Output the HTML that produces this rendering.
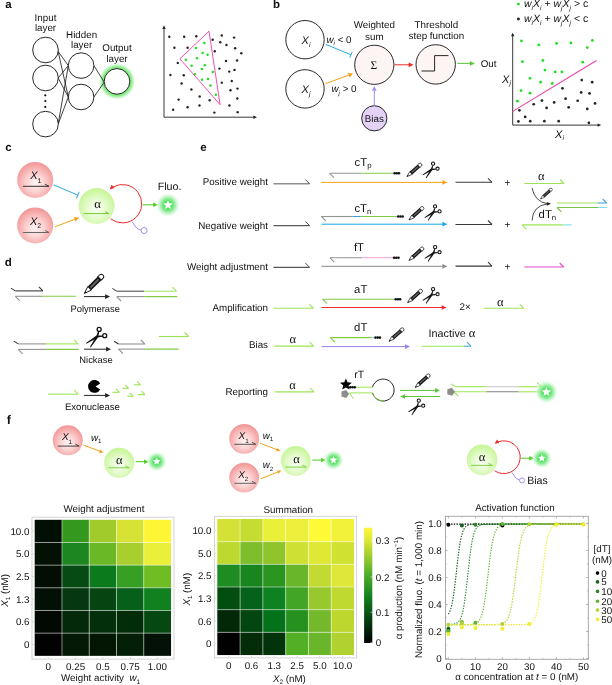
<!DOCTYPE html>
<html><head><meta charset="utf-8"><style>
html,body{margin:0;padding:0;background:#fff;}
svg{display:block;font-family:"Liberation Sans",sans-serif;fill:#1a1a1a;text-rendering:geometricPrecision;will-change:transform;}
text{fill:#111;}
</style></head><body>
<svg width="612" height="685" viewBox="0 0 612 685">
<defs>
<radialGradient id="gred" cx="50%" cy="58%" r="54%"><stop offset="0" stop-color="#fff4f4"/><stop offset="0.45" stop-color="#fcd3d3"/><stop offset="1" stop-color="#f39a9a"/></radialGradient>
<radialGradient id="ggreen" cx="50%" cy="58%" r="54%"><stop offset="0" stop-color="#f8fff3"/><stop offset="0.5" stop-color="#e6fbcf"/><stop offset="1" stop-color="#c9f69a"/></radialGradient>
<radialGradient id="glow" cx="50%" cy="50%" r="50%"><stop offset="0" stop-color="#4ee05f"/><stop offset="0.35" stop-color="#5ce36b"/><stop offset="0.6" stop-color="#98eea2" stop-opacity="0.85"/><stop offset="0.82" stop-color="#d3f8d6" stop-opacity="0.55"/><stop offset="1" stop-color="#ffffff" stop-opacity="0"/></radialGradient>
<radialGradient id="ringglow"><stop offset="0" stop-color="#6fe06f"/><stop offset="1" stop-color="#fff" stop-opacity="0"/></radialGradient>
<linearGradient id="cbar" x1="0" y1="1" x2="0" y2="0"><stop offset="0" stop-color="#000000"/><stop offset="0.2" stop-color="#063f10"/><stop offset="0.4" stop-color="#13801f"/><stop offset="0.58" stop-color="#4aab2a"/><stop offset="0.75" stop-color="#9ccc2f"/><stop offset="0.88" stop-color="#d8e636"/><stop offset="1" stop-color="#fff73a"/></linearGradient>
<filter id="blur1" x="-50%" y="-50%" width="200%" height="200%"><feGaussianBlur stdDeviation="1.2"/></filter>
</defs>
<rect width="612" height="685" fill="#fff"/>
<g id="pa">
<text x="5.20" y="7.60" text-anchor="start" font-size="11.5" font-weight="bold">a</text>
<text x="45.50" y="20.60" text-anchor="middle" font-size="9.8" >Input</text>
<text x="45.50" y="31.00" text-anchor="middle" font-size="9.8" >layer</text>
<text x="81.60" y="37.50" text-anchor="middle" font-size="9.8" >Hidden</text>
<text x="81.60" y="47.90" text-anchor="middle" font-size="9.8" >layer</text>
<text x="117.00" y="51.40" text-anchor="middle" font-size="9.8" >Output</text>
<text x="117.00" y="61.80" text-anchor="middle" font-size="9.8" >layer</text>
<radialGradient id="oglow" gradientUnits="userSpaceOnUse" cx="117.0" cy="81.4" r="18.8"><stop offset="0.66" stop-color="#6fe46f"/><stop offset="0.76" stop-color="#86ea86"/><stop offset="0.88" stop-color="#bff4bf" stop-opacity="0.75"/><stop offset="1" stop-color="#ffffff" stop-opacity="0"/></radialGradient>
<circle cx="117.0" cy="81.4" r="18.8" fill="url(#oglow)"/>
<line x1="58.17" y1="51.50" x2="68.30" y2="65.60" stroke="#111" stroke-width="0.8" />
<line x1="58.17" y1="51.50" x2="68.30" y2="97.00" stroke="#111" stroke-width="0.8" />
<line x1="58.17" y1="78.00" x2="68.30" y2="65.60" stroke="#111" stroke-width="0.8" />
<line x1="58.17" y1="78.00" x2="68.30" y2="97.00" stroke="#111" stroke-width="0.8" />
<line x1="58.17" y1="124.10" x2="68.30" y2="65.60" stroke="#111" stroke-width="0.8" />
<line x1="58.17" y1="124.10" x2="68.30" y2="97.00" stroke="#111" stroke-width="0.8" />
<line x1="93.90" y1="65.60" x2="104.20" y2="82.20" stroke="#111" stroke-width="0.8" />
<line x1="93.90" y1="97.00" x2="104.20" y2="82.20" stroke="#111" stroke-width="0.8" />
<circle cx="45.5" cy="50.0" r="12.8" fill="#fff" stroke="#111" stroke-width="0.9"/>
<circle cx="45.5" cy="78.0" r="12.8" fill="#fff" stroke="#111" stroke-width="0.9"/>
<circle cx="45.5" cy="124.1" r="12.8" fill="#fff" stroke="#111" stroke-width="0.9"/>
<circle cx="81.1" cy="65.6" r="12.8" fill="#fff" stroke="#111" stroke-width="0.9"/>
<circle cx="81.1" cy="97.0" r="12.8" fill="#fff" stroke="#111" stroke-width="0.9"/>
<circle cx="117.0" cy="81.4" r="12.8" fill="#fff" stroke="#111" stroke-width="0.9"/>
<circle cx="45.3" cy="95.3" r="1.1" fill="#111"/>
<circle cx="45.3" cy="101.0" r="1.1" fill="#111"/>
<circle cx="45.3" cy="106.9" r="1.1" fill="#111"/>
<line x1="164.00" y1="117.20" x2="164.00" y2="28.50" stroke="#222" stroke-width="0.9" />
<polygon points="164.00,25.30 165.70,28.90 162.30,28.90" fill="#222"/>
<line x1="164.00" y1="117.20" x2="253.80" y2="117.20" stroke="#222" stroke-width="0.9" />
<polygon points="257.00,117.20 253.40,118.90 253.40,115.50" fill="#222"/>
<circle cx="169.31" cy="36.75" r="1.2" fill="#222"/>
<circle cx="184.18" cy="36.75" r="1.2" fill="#222"/>
<circle cx="196.29" cy="36.32" r="1.2" fill="#222"/>
<circle cx="221.78" cy="35.47" r="1.2" fill="#222"/>
<circle cx="234.10" cy="37.60" r="1.2" fill="#222"/>
<circle cx="212.65" cy="39.72" r="1.2" fill="#222"/>
<circle cx="220.29" cy="42.27" r="1.2" fill="#222"/>
<circle cx="226.45" cy="45.03" r="1.2" fill="#222"/>
<circle cx="174.41" cy="47.79" r="1.2" fill="#222"/>
<circle cx="187.58" cy="47.79" r="1.2" fill="#222"/>
<circle cx="214.77" cy="51.19" r="1.2" fill="#222"/>
<circle cx="235.16" cy="48.22" r="1.2" fill="#222"/>
<circle cx="241.32" cy="53.32" r="1.2" fill="#222"/>
<circle cx="177.81" cy="62.88" r="1.2" fill="#222"/>
<circle cx="226.03" cy="60.96" r="1.2" fill="#222"/>
<circle cx="237.08" cy="60.54" r="1.2" fill="#222"/>
<circle cx="219.44" cy="68.61" r="1.2" fill="#222"/>
<circle cx="229.22" cy="71.58" r="1.2" fill="#222"/>
<circle cx="234.53" cy="69.89" r="1.2" fill="#222"/>
<circle cx="170.38" cy="74.98" r="1.2" fill="#222"/>
<circle cx="183.76" cy="75.20" r="1.2" fill="#222"/>
<circle cx="181.63" cy="83.48" r="1.2" fill="#222"/>
<circle cx="221.78" cy="82.63" r="1.2" fill="#222"/>
<circle cx="231.76" cy="80.93" r="1.2" fill="#222"/>
<circle cx="191.41" cy="89.43" r="1.2" fill="#222"/>
<circle cx="230.49" cy="90.28" r="1.2" fill="#222"/>
<circle cx="237.50" cy="88.58" r="1.2" fill="#222"/>
<circle cx="199.69" cy="96.44" r="1.2" fill="#222"/>
<circle cx="209.67" cy="100.26" r="1.2" fill="#222"/>
<circle cx="178.66" cy="99.62" r="1.2" fill="#222"/>
<circle cx="237.29" cy="98.56" r="1.2" fill="#222"/>
<circle cx="229.43" cy="105.57" r="1.2" fill="#222"/>
<circle cx="199.48" cy="105.57" r="1.2" fill="#222"/>
<circle cx="187.58" cy="107.27" r="1.2" fill="#222"/>
<circle cx="173.14" cy="109.82" r="1.2" fill="#222"/>
<circle cx="214.35" cy="112.58" r="1.2" fill="#222"/>
<circle cx="237.71" cy="112.16" r="1.2" fill="#222"/>
<circle cx="204.36" cy="43.12" r="1.25" fill="#22dd22"/>
<circle cx="195.87" cy="48.01" r="1.25" fill="#22dd22"/>
<circle cx="202.66" cy="53.10" r="1.25" fill="#22dd22"/>
<circle cx="207.55" cy="54.80" r="1.25" fill="#22dd22"/>
<circle cx="196.93" cy="58.20" r="1.25" fill="#22dd22"/>
<circle cx="185.88" cy="59.69" r="1.25" fill="#22dd22"/>
<circle cx="191.62" cy="65.64" r="1.25" fill="#22dd22"/>
<circle cx="204.79" cy="65.21" r="1.25" fill="#22dd22"/>
<circle cx="202.03" cy="69.04" r="1.25" fill="#22dd22"/>
<circle cx="212.86" cy="72.01" r="1.25" fill="#22dd22"/>
<circle cx="194.80" cy="74.13" r="1.25" fill="#22dd22"/>
<circle cx="202.03" cy="79.66" r="1.25" fill="#22dd22"/>
<circle cx="207.97" cy="79.02" r="1.25" fill="#22dd22"/>
<circle cx="210.52" cy="85.39" r="1.25" fill="#22dd22"/>
<circle cx="215.83" cy="94.74" r="1.25" fill="#22dd22"/>
<polygon points="209.0,31.2 179.9,58.8 220.1,104.7" fill="none" stroke="#ec3ea6" stroke-width="0.9"/>
</g>
<g id="pb">
<text x="272.90" y="8.40" text-anchor="start" font-size="11.5" font-weight="bold">b</text>
<circle cx="305.0" cy="39.7" r="19.2" fill="#fff" stroke="#111" stroke-width="0.9"/>
<text x="306.00" y="43.50" text-anchor="middle" font-size="11" font-style="italic">X<tspan font-size="6.82" dy="3.4" font-style="italic">i</tspan></text>
<circle cx="305.0" cy="88.9" r="19.2" fill="#fff" stroke="#111" stroke-width="0.9"/>
<text x="306.00" y="92.70" text-anchor="middle" font-size="11" font-style="italic">X<tspan font-size="6.82" dy="3.4" font-style="italic">j</tspan></text>
<circle cx="374.3" cy="64.8" r="19.6" fill="#fcf5f4" stroke="#111" stroke-width="0.9"/>
<text x="373.90" y="68.80" text-anchor="middle" font-size="11.5" font-family="Liberation Serif">&#931;</text>
<circle cx="374.3" cy="118.3" r="12.6" fill="#e3d2f6" stroke="#111" stroke-width="0.9"/>
<text x="374.30" y="121.80" text-anchor="middle" font-size="9.8" >Bias</text>
<text x="374.30" y="27.80" text-anchor="middle" font-size="9.8" >Weighted</text>
<text x="374.30" y="40.00" text-anchor="middle" font-size="9.8" >sum</text>
<line x1="325.90" y1="44.40" x2="351.00" y2="54.80" stroke="#2aa9e0" stroke-width="1.0" />
<line x1="349.78" y1="57.76" x2="352.22" y2="51.84" stroke="#2aa9e0" stroke-width="1.0" />
<line x1="325.40" y1="83.70" x2="349.17" y2="75.01" stroke="#f4a11a" stroke-width="1.0" />
<polygon points="353.30,73.50 349.50,77.39 347.89,72.98" fill="#f4a11a"/>
<line x1="394.60" y1="64.80" x2="409.10" y2="64.80" stroke="#ee2a2a" stroke-width="1.0" />
<polygon points="413.50,64.80 408.60,67.15 408.60,62.45" fill="#ee2a2a"/>
<line x1="374.30" y1="105.60" x2="374.30" y2="90.30" stroke="#a78cf2" stroke-width="1.0" />
<polygon points="374.30,85.90 376.65,90.80 371.95,90.80" fill="#a78cf2"/>
<text x="326.5" y="42.6" font-size="9.8" font-style="italic">w<tspan font-size="6.2" dy="2.2">i</tspan><tspan dy="-2.2" font-style="normal"> &lt; 0</tspan></text>
<text x="331.5" y="92.3" font-size="9.8" font-style="italic">w<tspan font-size="6.2" dy="2.2">j</tspan><tspan dy="-2.2" font-style="normal"> &gt; 0</tspan></text>
<circle cx="435.7" cy="64.4" r="19.7" fill="#fcf5f4" stroke="#111" stroke-width="0.9"/>
<polyline points="421.5,71 434.6,71 434.6,55.6 448.5,55.6" fill="none" stroke="#111" stroke-width="0.9"/>
<text x="436.40" y="28.30" text-anchor="middle" font-size="9.8" >Threshold</text>
<text x="436.40" y="39.30" text-anchor="middle" font-size="9.8" >step function</text>
<line x1="457.20" y1="63.40" x2="470.40" y2="63.40" stroke="#5cc63a" stroke-width="1.0" />
<polygon points="474.80,63.40 469.90,65.75 469.90,61.05" fill="#5cc63a"/>
<text x="480.70" y="66.60" text-anchor="start" font-size="9.8" >Out</text>
<line x1="512.70" y1="125.10" x2="512.70" y2="36.00" stroke="#222" stroke-width="0.9" />
<polygon points="512.70,32.70 514.40,36.30 511.00,36.30" fill="#222"/>
<line x1="512.70" y1="125.10" x2="598.00" y2="125.10" stroke="#222" stroke-width="0.9" />
<polygon points="601.20,125.10 597.60,126.80 597.60,123.40" fill="#222"/>
<circle cx="581.75" cy="80.12" r="1.35" fill="#222"/>
<circle cx="592.18" cy="82.16" r="1.35" fill="#222"/>
<circle cx="562.54" cy="88.29" r="1.35" fill="#222"/>
<circle cx="581.14" cy="92.38" r="1.35" fill="#222"/>
<circle cx="589.52" cy="93.40" r="1.35" fill="#222"/>
<circle cx="541.90" cy="100.55" r="1.35" fill="#222"/>
<circle cx="565.61" cy="98.72" r="1.35" fill="#222"/>
<circle cx="577.66" cy="100.76" r="1.35" fill="#222"/>
<circle cx="533.72" cy="104.23" r="1.35" fill="#222"/>
<circle cx="554.16" cy="102.39" r="1.35" fill="#222"/>
<circle cx="595.04" cy="103.42" r="1.35" fill="#222"/>
<circle cx="519.42" cy="110.36" r="1.35" fill="#222"/>
<circle cx="546.60" cy="107.91" r="1.35" fill="#222"/>
<circle cx="568.67" cy="107.30" r="1.35" fill="#222"/>
<circle cx="587.27" cy="108.93" r="1.35" fill="#222"/>
<circle cx="525.14" cy="116.91" r="1.35" fill="#222"/>
<circle cx="518.39" cy="121.40" r="1.35" fill="#222"/>
<circle cx="530.25" cy="121.20" r="1.35" fill="#222"/>
<circle cx="544.35" cy="121.20" r="1.35" fill="#222"/>
<circle cx="558.66" cy="121.20" r="1.35" fill="#222"/>
<circle cx="588.91" cy="122.83" r="1.35" fill="#222"/>
<circle cx="521.46" cy="40.88" r="1.4" fill="#22dd22"/>
<circle cx="538.83" cy="44.96" r="1.4" fill="#22dd22"/>
<circle cx="556.61" cy="43.33" r="1.4" fill="#22dd22"/>
<circle cx="570.92" cy="42.92" r="1.4" fill="#22dd22"/>
<circle cx="592.38" cy="40.47" r="1.4" fill="#22dd22"/>
<circle cx="587.27" cy="47.62" r="1.4" fill="#22dd22"/>
<circle cx="522.48" cy="61.72" r="1.4" fill="#22dd22"/>
<circle cx="542.92" cy="60.50" r="1.4" fill="#22dd22"/>
<circle cx="582.77" cy="62.13" r="1.4" fill="#22dd22"/>
<circle cx="544.96" cy="70.10" r="1.4" fill="#22dd22"/>
<circle cx="555.18" cy="71.94" r="1.4" fill="#22dd22"/>
<circle cx="561.93" cy="71.94" r="1.4" fill="#22dd22"/>
<circle cx="530.04" cy="78.28" r="1.4" fill="#22dd22"/>
<circle cx="540.67" cy="82.16" r="1.4" fill="#22dd22"/>
<circle cx="552.32" cy="83.39" r="1.4" fill="#22dd22"/>
<circle cx="521.05" cy="90.54" r="1.4" fill="#22dd22"/>
<circle cx="530.04" cy="93.20" r="1.4" fill="#22dd22"/>
<circle cx="517.37" cy="101.17" r="1.4" fill="#22dd22"/>
<line x1="512.70" y1="111.40" x2="596.50" y2="60.50" stroke="#ec3ea6" stroke-width="1.1" />
<text x="506.5" y="82.5" text-anchor="middle" font-size="11" font-style="italic">X<tspan font-size="6.8" dy="2.5">j</tspan></text>
<text x="559.5" y="137.7" text-anchor="middle" font-size="11" font-style="italic">X<tspan font-size="6.8" dy="2.5">i</tspan></text>
<circle cx="518.4" cy="4.1" r="1.45" fill="#22dd22"/>
<circle cx="518.4" cy="19.0" r="1.45" fill="#222"/>
<text x="524.0" y="7.40" font-size="10.5" font-style="italic">w<tspan font-size="6.6" dy="2.3">i</tspan><tspan dy="-2.3">X</tspan><tspan font-size="6.6" dy="2.3">i</tspan><tspan dy="-2.3" font-style="normal"> + </tspan><tspan>w</tspan><tspan font-size="6.6" dy="2.3">j</tspan><tspan dy="-2.3">X</tspan><tspan font-size="6.6" dy="2.3">j</tspan><tspan dy="-2.3" font-style="normal"> &gt; c</tspan></text>
<text x="524.0" y="22.30" font-size="10.5" font-style="italic">w<tspan font-size="6.6" dy="2.3">i</tspan><tspan dy="-2.3">X</tspan><tspan font-size="6.6" dy="2.3">i</tspan><tspan dy="-2.3" font-style="normal"> + </tspan><tspan>w</tspan><tspan font-size="6.6" dy="2.3">j</tspan><tspan dy="-2.3">X</tspan><tspan font-size="6.6" dy="2.3">j</tspan><tspan dy="-2.3" font-style="normal"> &lt; c</tspan></text>
</g>
<g id="pc">
<text x="5.30" y="151.30" text-anchor="start" font-size="11.5" font-weight="bold">c</text>
<circle cx="35.2" cy="179.9" r="18" fill="url(#gred)"/>
<circle cx="35.2" cy="225.4" r="18" fill="url(#gred)"/>
<circle cx="96.6" cy="206.0" r="17.9" fill="url(#ggreen)"/>
<text x="35.70" y="179.30" text-anchor="middle" font-size="11" font-style="italic">X<tspan font-size="6.82" dy="3.4" font-style="normal">1</tspan></text>
<text x="35.50" y="224.80" text-anchor="middle" font-size="11" font-style="italic">X<tspan font-size="6.82" dy="3.4" font-style="normal">2</tspan></text>
<line x1="22.90" y1="186.30" x2="49.00" y2="186.30" stroke="#333" stroke-width="1.0" />
<polyline points="45.20,184.30 49.00,186.30" stroke="#333" stroke-width="1.0" fill="none"/>
<line x1="22.90" y1="232.50" x2="49.00" y2="232.50" stroke="#666" stroke-width="1.0" />
<polyline points="45.20,230.50 49.00,232.50" stroke="#666" stroke-width="1.0" fill="none"/>
<text x="97.60" y="208.00" text-anchor="middle" font-size="12.8" font-family="Liberation Serif">&#945;</text>
<line x1="83.50" y1="213.60" x2="108.80" y2="213.60" stroke="#74cf38" stroke-width="1.0" />
<polyline points="105.00,211.60 108.80,213.60" stroke="#74cf38" stroke-width="1.0" fill="none"/>
<line x1="53.70" y1="184.90" x2="77.80" y2="195.10" stroke="#2aa9e0" stroke-width="1.0" />
<line x1="76.40" y1="198.42" x2="79.20" y2="191.78" stroke="#2aa9e0" stroke-width="1.0" />
<line x1="54.90" y1="226.80" x2="75.18" y2="219.15" stroke="#f4a11a" stroke-width="1.0" />
<polygon points="79.30,217.60 75.54,221.53 73.89,217.13" fill="#f4a11a"/>
<path d="M110.57,218.75 A19.2,19.2 0 1 0 113.19,186.91" fill="none" stroke="#ee2a2a" stroke-width="1.0"/>
<polygon points="109.65,189.43 111.60,184.72 114.54,187.99" fill="#ee2a2a"/>
<line x1="142.60" y1="204.80" x2="153.70" y2="204.80" stroke="#4ccc1e" stroke-width="1.0" />
<polygon points="157.90,204.80 153.20,207.00 153.20,202.60" fill="#4ccc1e"/>
<circle cx="168.0" cy="205.0" r="12.5" fill="url(#glow)"/>
<polygon points="168.00,200.00 169.32,203.18 172.76,203.45 170.14,205.70 170.94,209.05 168.00,207.25 165.06,209.05 165.86,205.70 163.24,203.45 166.68,203.18" fill="#fff"/>
<text x="169.60" y="190.30" text-anchor="middle" font-size="10.7" >Fluo.</text>
<path d="M132.3,221.7 Q136,229 141.0,230.2" fill="none" stroke="#a78cf2" stroke-width="1.0"/>
<circle cx="144.1" cy="230.5" r="3.0" fill="#fff" stroke="#a78cf2" stroke-width="1.0"/>
</g>
<g id="pd">
<text x="4.80" y="265.60" text-anchor="start" font-size="11.5" font-weight="bold">d</text>
<line x1="15.30" y1="290.90" x2="42.90" y2="290.90" stroke="#3a3a3a" stroke-width="1.1" stroke-linecap="butt"/>
<polyline points="38.90,286.90 42.90,290.90" stroke="#3a3a3a" stroke-width="1.1" fill="none"/>
<polyline points="10.90,288.10 15.30,290.90" stroke="#3a3a3a" stroke-width="1.1" fill="none"/>
<line x1="15.30" y1="296.30" x2="42.90" y2="296.30" stroke="#939393" stroke-width="1.1" stroke-linecap="butt"/>
<line x1="42.90" y1="296.30" x2="76.00" y2="296.30" stroke="#82cb45" stroke-width="1.1" stroke-linecap="butt"/>
<polyline points="15.30,296.30 19.70,300.70" stroke="#939393" stroke-width="1.1" fill="none"/>
<g transform="translate(84.20,293.60) rotate(-44.7) scale(1.008)"><path d="M0.3,0 L7.5,-2.5 L7.5,2.5 Z" fill="#fff" stroke="#111" stroke-width="0.9" stroke-linejoin="round"/><path d="M0,0 L2.4,-0.85 L2.4,0.85 Z" fill="#111"/><rect x="7.5" y="-2.5" width="14" height="5" fill="#111"/><rect x="8.7" y="-1.0" width="11.6" height="2.0" fill="#5e5e5e"/><path d="M21.5,-2.4 L23.8,-2.4 A2.4,2.4 0 0 1 23.8,2.4 L21.5,2.4 Z" fill="#fff" stroke="#111" stroke-width="0.95"/></g>
<line x1="84.00" y1="296.60" x2="105.60" y2="296.60" stroke="#222" stroke-width="1.0" />
<polygon points="110.00,296.60 105.10,298.95 105.10,294.25" fill="#222"/>
<text x="95.20" y="311.80" text-anchor="middle" font-size="9.4" >Polymerase</text>
<line x1="116.70" y1="291.20" x2="144.20" y2="291.20" stroke="#555" stroke-width="1.1" stroke-linecap="butt"/>
<line x1="144.20" y1="291.20" x2="176.50" y2="291.20" stroke="#9ce456" stroke-width="1.1" stroke-linecap="butt"/>
<polyline points="172.50,287.20 176.50,291.20" stroke="#9ce456" stroke-width="1.1" fill="none"/>
<polyline points="112.30,288.40 116.70,291.20" stroke="#555" stroke-width="1.1" fill="none"/>
<line x1="116.70" y1="296.60" x2="144.20" y2="296.60" stroke="#939393" stroke-width="1.1" stroke-linecap="butt"/>
<line x1="144.20" y1="296.60" x2="177.40" y2="296.60" stroke="#82cb45" stroke-width="1.1" stroke-linecap="butt"/>
<polyline points="116.70,296.60 121.10,301.00" stroke="#939393" stroke-width="1.1" fill="none"/>
<line x1="18.20" y1="343.90" x2="46.10" y2="343.90" stroke="#939393" stroke-width="1.1" stroke-linecap="butt"/>
<line x1="46.10" y1="343.90" x2="78.00" y2="343.90" stroke="#9ce456" stroke-width="1.1" stroke-linecap="butt"/>
<polyline points="74.00,339.90 78.00,343.90" stroke="#9ce456" stroke-width="1.1" fill="none"/>
<polyline points="13.80,341.10 18.20,343.90" stroke="#3a3a3a" stroke-width="1.1" fill="none"/>
<line x1="18.20" y1="349.40" x2="46.10" y2="349.40" stroke="#939393" stroke-width="1.1" stroke-linecap="butt"/>
<line x1="46.10" y1="349.40" x2="78.70" y2="349.40" stroke="#82cb45" stroke-width="1.1" stroke-linecap="butt"/>
<polyline points="18.20,349.40 22.60,353.80" stroke="#939393" stroke-width="1.1" fill="none"/>
<circle cx="99.15" cy="329.40" r="2.00" fill="none" stroke="#111" stroke-width="1.30"/>
<circle cx="104.70" cy="335.70" r="2.00" fill="none" stroke="#111" stroke-width="1.30"/>
<polygon points="98.03,331.61 96.20,336.30 98.10,336.90 99.27,331.99" fill="#111"/>
<polygon points="102.49,335.45 97.06,335.60 97.24,337.60 102.61,336.75" fill="#111"/>
<polygon points="96.51,335.58 86.06,343.02 86.54,343.78 97.79,337.62" fill="#111"/>
<polygon points="96.14,335.95 89.92,346.96 90.68,347.44 98.16,337.25" fill="#111"/>
<line x1="84.10" y1="349.20" x2="106.60" y2="349.20" stroke="#222" stroke-width="1.0" />
<polygon points="111.00,349.20 106.10,351.55 106.10,346.85" fill="#222"/>
<text x="96.00" y="362.90" text-anchor="middle" font-size="9.4" >Nickase</text>
<line x1="118.50" y1="344.00" x2="144.80" y2="344.00" stroke="#939393" stroke-width="1.1" stroke-linecap="butt"/>
<polyline points="140.80,340.00 144.80,344.00" stroke="#939393" stroke-width="1.1" fill="none"/>
<polyline points="114.10,341.20 118.50,344.00" stroke="#3a3a3a" stroke-width="1.1" fill="none"/>
<line x1="118.50" y1="349.10" x2="145.80" y2="349.10" stroke="#939393" stroke-width="1.1" stroke-linecap="butt"/>
<line x1="145.80" y1="349.10" x2="178.60" y2="349.10" stroke="#82cb45" stroke-width="1.1" stroke-linecap="butt"/>
<polyline points="118.50,349.10 122.90,353.50" stroke="#939393" stroke-width="1.1" fill="none"/>
<line x1="158.90" y1="336.50" x2="188.60" y2="336.50" stroke="#9ce456" stroke-width="1.1" stroke-linecap="butt"/>
<polyline points="184.60,332.50 188.60,336.50" stroke="#9ce456" stroke-width="1.1" fill="none"/>
<line x1="48.20" y1="394.20" x2="78.20" y2="394.20" stroke="#9ce456" stroke-width="1.1" stroke-linecap="butt"/>
<polyline points="74.20,390.20 78.20,394.20" stroke="#9ce456" stroke-width="1.1" fill="none"/>
<path d="M95.5,386.4 L100.2,383.4 A6.45,6.45 0 1 0 100.2,389.4 Z" fill="#000"/>
<line x1="84.10" y1="395.40" x2="105.60" y2="395.40" stroke="#222" stroke-width="1.0" />
<polygon points="110.00,395.40 105.10,397.75 105.10,393.05" fill="#222"/>
<text x="92.40" y="409.80" text-anchor="middle" font-size="9.6" >Exonuclease</text>
<line x1="112.50" y1="392.30" x2="119.40" y2="392.30" stroke="#9ce456" stroke-width="1.15" />
<polyline points="116.00,388.90 119.40,392.30" stroke="#9ce456" stroke-width="1.15" fill="none"/>
<line x1="122.40" y1="388.30" x2="128.60" y2="388.30" stroke="#9ce456" stroke-width="1.15" />
<polyline points="125.20,384.90 128.60,388.30" stroke="#9ce456" stroke-width="1.15" fill="none"/>
<line x1="134.10" y1="384.80" x2="140.40" y2="384.80" stroke="#9ce456" stroke-width="1.15" />
<polyline points="137.00,381.40 140.40,384.80" stroke="#9ce456" stroke-width="1.15" fill="none"/>
<line x1="127.30" y1="396.20" x2="133.10" y2="396.20" stroke="#9ce456" stroke-width="1.15" />
<polyline points="129.70,392.80 133.10,396.20" stroke="#9ce456" stroke-width="1.15" fill="none"/>
<line x1="138.00" y1="394.60" x2="144.90" y2="394.60" stroke="#9ce456" stroke-width="1.15" />
<polyline points="141.50,391.20 144.90,394.60" stroke="#9ce456" stroke-width="1.15" fill="none"/>
</g>
<g id="pe">
<text x="200.30" y="151.30" text-anchor="start" font-size="11.5" font-weight="bold">e</text>
<text x="268.00" y="185.30" text-anchor="end" font-size="9.8" >Positive weight</text>
<text x="268.00" y="228.60" text-anchor="end" font-size="9.8" >Negative weight</text>
<text x="268.00" y="269.80" text-anchor="end" font-size="9.8" >Weight adjustment</text>
<text x="268.00" y="310.60" text-anchor="end" font-size="9.8" >Amplification</text>
<text x="268.00" y="348.40" text-anchor="end" font-size="9.8" >Bias</text>
<text x="268.00" y="394.80" text-anchor="end" font-size="9.8" >Reporting</text>
<line x1="273.40" y1="183.80" x2="309.60" y2="183.80" stroke="#8e8e8e" stroke-width="1.5" />
<polyline points="305.4,179.60 309.6,183.80" stroke="#333" stroke-width="0.9" fill="none"/>
<line x1="273.40" y1="225.60" x2="309.60" y2="225.60" stroke="#5a5a5a" stroke-width="1.25" />
<polyline points="305.4,221.40 309.6,225.60" stroke="#333" stroke-width="0.9" fill="none"/>
<line x1="273.40" y1="267.30" x2="309.60" y2="267.30" stroke="#2e2e2e" stroke-width="1.0" />
<polyline points="305.4,263.10 309.6,267.30" stroke="#333" stroke-width="0.9" fill="none"/>
<line x1="273.40" y1="308.30" x2="313.40" y2="308.30" stroke="#9ce456" stroke-width="1.1" stroke-linecap="butt"/>
<polyline points="309.40,304.30 313.40,308.30" stroke="#9ce456" stroke-width="1.1" fill="none"/>
<line x1="274.40" y1="346.10" x2="313.70" y2="346.10" stroke="#9ce456" stroke-width="1.1" stroke-linecap="butt"/>
<polyline points="309.70,342.10 313.70,346.10" stroke="#9ce456" stroke-width="1.1" fill="none"/>
<line x1="274.80" y1="391.90" x2="314.00" y2="391.90" stroke="#9ce456" stroke-width="1.1" stroke-linecap="butt"/>
<polyline points="310.00,387.90 314.00,391.90" stroke="#9ce456" stroke-width="1.1" fill="none"/>
<text x="292.70" y="343.30" text-anchor="middle" font-size="12.5" font-family="Liberation Serif">&#945;</text>
<text x="292.60" y="388.60" text-anchor="middle" font-size="12.5" font-family="Liberation Serif">&#945;</text>
<line x1="321.00" y1="182.40" x2="442.90" y2="182.40" stroke="#f4a11a" stroke-width="1.0" />
<polygon points="447.30,182.40 442.40,184.75 442.40,180.05" fill="#f4a11a"/>
<line x1="321.40" y1="224.20" x2="442.90" y2="224.20" stroke="#1aa6e6" stroke-width="1.0" />
<polygon points="447.30,224.20 442.40,226.55 442.40,221.85" fill="#1aa6e6"/>
<line x1="321.40" y1="266.30" x2="442.90" y2="266.30" stroke="#8a8a8a" stroke-width="1.0" />
<polygon points="447.30,266.30 442.40,268.65 442.40,263.95" fill="#8a8a8a"/>
<line x1="321.60" y1="307.50" x2="442.20" y2="307.50" stroke="#ee2a2a" stroke-width="1.0" />
<polygon points="446.60,307.50 441.70,309.85 441.70,305.15" fill="#ee2a2a"/>
<line x1="321.60" y1="346.60" x2="405.50" y2="346.60" stroke="#9b7ff0" stroke-width="1.0" />
<polygon points="409.90,346.60 405.00,348.95 405.00,344.25" fill="#9b7ff0"/>
<line x1="329.60" y1="173.30" x2="361.50" y2="173.30" stroke="#939393" stroke-width="1.1" stroke-linecap="butt"/>
<line x1="361.50" y1="173.30" x2="393.30" y2="173.30" stroke="#82cb45" stroke-width="1.1" stroke-linecap="butt"/>
<polyline points="329.60,173.30 334.00,177.70" stroke="#939393" stroke-width="1.1" fill="none"/>
<circle cx="394.60" cy="173.30" r="1.3" fill="#111"/>
<circle cx="396.80" cy="173.30" r="1.3" fill="#111"/>
<circle cx="399.00" cy="173.30" r="1.3" fill="#111"/>
<line x1="321.40" y1="216.50" x2="352.70" y2="216.50" stroke="#939393" stroke-width="1.1" stroke-linecap="butt"/>
<line x1="352.70" y1="216.50" x2="360.80" y2="216.50" stroke="#3aa0dc" stroke-width="1.1" stroke-linecap="butt"/>
<line x1="360.80" y1="216.50" x2="396.90" y2="216.50" stroke="#82cb45" stroke-width="1.1" stroke-linecap="butt"/>
<polyline points="321.40,216.50 325.80,220.90" stroke="#939393" stroke-width="1.1" fill="none"/>
<circle cx="398.20" cy="216.50" r="1.3" fill="#111"/>
<circle cx="400.40" cy="216.50" r="1.3" fill="#111"/>
<circle cx="402.60" cy="216.50" r="1.3" fill="#111"/>
<line x1="329.90" y1="257.70" x2="361.90" y2="257.70" stroke="#939393" stroke-width="1.1" stroke-linecap="butt"/>
<line x1="361.90" y1="257.70" x2="392.80" y2="257.70" stroke="#f2a6dc" stroke-width="1.1" stroke-linecap="butt"/>
<polyline points="329.90,257.70 334.30,262.10" stroke="#939393" stroke-width="1.1" fill="none"/>
<circle cx="394.10" cy="257.70" r="1.3" fill="#111"/>
<circle cx="396.30" cy="257.70" r="1.3" fill="#111"/>
<circle cx="398.50" cy="257.70" r="1.3" fill="#111"/>
<line x1="322.60" y1="299.20" x2="394.40" y2="299.20" stroke="#82cb45" stroke-width="1.1" stroke-linecap="butt"/>
<polyline points="322.60,299.20 327.00,303.60" stroke="#82cb45" stroke-width="1.1" fill="none"/>
<circle cx="395.70" cy="299.20" r="1.3" fill="#111"/>
<circle cx="397.90" cy="299.20" r="1.3" fill="#111"/>
<circle cx="400.10" cy="299.20" r="1.3" fill="#111"/>
<line x1="330.40" y1="337.60" x2="371.90" y2="337.60" stroke="#82cb45" stroke-width="1.1" stroke-linecap="butt"/>
<line x1="371.90" y1="337.60" x2="374.20" y2="337.60" stroke="#7ddff0" stroke-width="1.1" stroke-linecap="butt"/>
<polyline points="330.40,337.60 334.80,342.00" stroke="#82cb45" stroke-width="1.1" fill="none"/>
<circle cx="375.50" cy="337.60" r="1.3" fill="#111"/>
<circle cx="377.70" cy="337.60" r="1.3" fill="#111"/>
<circle cx="379.90" cy="337.60" r="1.3" fill="#111"/>
<text x="354.60" y="165.60" font-size="11.3">cT<tspan font-size="7.8" dy="2.0">p</tspan></text>
<text x="354.40" y="212.30" font-size="11.3">cT<tspan font-size="7.8" dy="2.0">n</tspan></text>
<text x="353.90" y="250.60" font-size="11.3">fT</text>
<text x="354.10" y="293.00" font-size="11.3">aT</text>
<text x="354.10" y="331.00" font-size="11.3">dT</text>
<g transform="translate(406.80,176.70) rotate(-41.5) scale(0.746)"><path d="M0.3,0 L7.5,-2.5 L7.5,2.5 Z" fill="#fff" stroke="#111" stroke-width="0.9" stroke-linejoin="round"/><path d="M0,0 L2.4,-0.85 L2.4,0.85 Z" fill="#111"/><rect x="7.5" y="-2.5" width="14" height="5" fill="#111"/><rect x="8.7" y="-1.0" width="11.6" height="2.0" fill="#5e5e5e"/><path d="M21.5,-2.4 L23.8,-2.4 A2.4,2.4 0 0 1 23.8,2.4 L21.5,2.4 Z" fill="#fff" stroke="#111" stroke-width="0.95"/></g>
<g transform="translate(408.80,220.10) rotate(-41.5) scale(0.746)"><path d="M0.3,0 L7.5,-2.5 L7.5,2.5 Z" fill="#fff" stroke="#111" stroke-width="0.9" stroke-linejoin="round"/><path d="M0,0 L2.4,-0.85 L2.4,0.85 Z" fill="#111"/><rect x="7.5" y="-2.5" width="14" height="5" fill="#111"/><rect x="8.7" y="-1.0" width="11.6" height="2.0" fill="#5e5e5e"/><path d="M21.5,-2.4 L23.8,-2.4 A2.4,2.4 0 0 1 23.8,2.4 L21.5,2.4 Z" fill="#fff" stroke="#111" stroke-width="0.95"/></g>
<g transform="translate(408.80,260.60) rotate(-41.5) scale(0.746)"><path d="M0.3,0 L7.5,-2.5 L7.5,2.5 Z" fill="#fff" stroke="#111" stroke-width="0.9" stroke-linejoin="round"/><path d="M0,0 L2.4,-0.85 L2.4,0.85 Z" fill="#111"/><rect x="7.5" y="-2.5" width="14" height="5" fill="#111"/><rect x="8.7" y="-1.0" width="11.6" height="2.0" fill="#5e5e5e"/><path d="M21.5,-2.4 L23.8,-2.4 A2.4,2.4 0 0 1 23.8,2.4 L21.5,2.4 Z" fill="#fff" stroke="#111" stroke-width="0.95"/></g>
<g transform="translate(407.40,302.80) rotate(-41.5) scale(0.746)"><path d="M0.3,0 L7.5,-2.5 L7.5,2.5 Z" fill="#fff" stroke="#111" stroke-width="0.9" stroke-linejoin="round"/><path d="M0,0 L2.4,-0.85 L2.4,0.85 Z" fill="#111"/><rect x="7.5" y="-2.5" width="14" height="5" fill="#111"/><rect x="8.7" y="-1.0" width="11.6" height="2.0" fill="#5e5e5e"/><path d="M21.5,-2.4 L23.8,-2.4 A2.4,2.4 0 0 1 23.8,2.4 L21.5,2.4 Z" fill="#fff" stroke="#111" stroke-width="0.95"/></g>
<g transform="translate(388.90,341.40) rotate(-41.5) scale(0.746)"><path d="M0.3,0 L7.5,-2.5 L7.5,2.5 Z" fill="#fff" stroke="#111" stroke-width="0.9" stroke-linejoin="round"/><path d="M0,0 L2.4,-0.85 L2.4,0.85 Z" fill="#111"/><rect x="7.5" y="-2.5" width="14" height="5" fill="#111"/><rect x="8.7" y="-1.0" width="11.6" height="2.0" fill="#5e5e5e"/><path d="M21.5,-2.4 L23.8,-2.4 A2.4,2.4 0 0 1 23.8,2.4 L21.5,2.4 Z" fill="#fff" stroke="#111" stroke-width="0.95"/></g>
<g transform="translate(415.00,387.60) rotate(-41.5) scale(0.746)"><path d="M0.3,0 L7.5,-2.5 L7.5,2.5 Z" fill="#fff" stroke="#111" stroke-width="0.9" stroke-linejoin="round"/><path d="M0,0 L2.4,-0.85 L2.4,0.85 Z" fill="#111"/><rect x="7.5" y="-2.5" width="14" height="5" fill="#111"/><rect x="8.7" y="-1.0" width="11.6" height="2.0" fill="#5e5e5e"/><path d="M21.5,-2.4 L23.8,-2.4 A2.4,2.4 0 0 1 23.8,2.4 L21.5,2.4 Z" fill="#fff" stroke="#111" stroke-width="0.95"/></g>
<circle cx="433.10" cy="163.70" r="1.60" fill="none" stroke="#111" stroke-width="1.04"/>
<circle cx="437.54" cy="168.74" r="1.60" fill="none" stroke="#111" stroke-width="1.04"/>
<polygon points="432.20,165.46 430.74,169.22 432.26,169.70 433.20,165.78" fill="#111"/>
<polygon points="435.77,168.54 431.43,168.66 431.57,170.26 435.87,169.58" fill="#111"/>
<polygon points="430.99,168.65 422.63,174.59 423.01,175.21 432.01,170.27" fill="#111"/>
<polygon points="430.69,168.94 425.72,177.74 426.32,178.14 432.31,169.98" fill="#111"/>
<circle cx="435.10" cy="206.40" r="1.60" fill="none" stroke="#111" stroke-width="1.04"/>
<circle cx="439.54" cy="211.44" r="1.60" fill="none" stroke="#111" stroke-width="1.04"/>
<polygon points="434.20,208.16 432.74,211.92 434.26,212.40 435.20,208.48" fill="#111"/>
<polygon points="437.77,211.24 433.43,211.36 433.57,212.96 437.87,212.28" fill="#111"/>
<polygon points="432.99,211.35 424.63,217.29 425.01,217.91 434.01,212.97" fill="#111"/>
<polygon points="432.69,211.64 427.72,220.44 428.32,220.84 434.31,212.68" fill="#111"/>
<circle cx="435.10" cy="247.20" r="1.60" fill="none" stroke="#111" stroke-width="1.04"/>
<circle cx="439.54" cy="252.24" r="1.60" fill="none" stroke="#111" stroke-width="1.04"/>
<polygon points="434.20,248.96 432.74,252.72 434.26,253.20 435.20,249.28" fill="#111"/>
<polygon points="437.77,252.04 433.43,252.16 433.57,253.76 437.87,253.08" fill="#111"/>
<polygon points="432.99,252.15 424.63,258.09 425.01,258.71 434.01,253.77" fill="#111"/>
<polygon points="432.69,252.44 427.72,261.24 428.32,261.64 434.31,253.48" fill="#111"/>
<circle cx="433.10" cy="289.20" r="1.60" fill="none" stroke="#111" stroke-width="1.04"/>
<circle cx="437.54" cy="294.24" r="1.60" fill="none" stroke="#111" stroke-width="1.04"/>
<polygon points="432.20,290.96 430.74,294.72 432.26,295.20 433.20,291.28" fill="#111"/>
<polygon points="435.77,294.04 431.43,294.16 431.57,295.76 435.87,295.08" fill="#111"/>
<polygon points="430.99,294.15 422.63,300.09 423.01,300.71 432.01,295.77" fill="#111"/>
<polygon points="430.69,294.44 425.72,303.24 426.32,303.64 432.31,295.48" fill="#111"/>
<circle cx="418.80" cy="400.70" r="1.60" fill="none" stroke="#111" stroke-width="1.04"/>
<circle cx="423.24" cy="405.74" r="1.60" fill="none" stroke="#111" stroke-width="1.04"/>
<polygon points="417.90,402.46 416.44,406.22 417.96,406.70 418.90,402.78" fill="#111"/>
<polygon points="421.47,405.54 417.13,405.66 417.27,407.26 421.57,406.58" fill="#111"/>
<polygon points="416.69,405.65 408.33,411.59 408.71,412.21 417.71,407.27" fill="#111"/>
<polygon points="416.39,405.94 411.42,414.74 412.02,415.14 418.01,406.98" fill="#111"/>
<line x1="455.50" y1="182.30" x2="492.00" y2="182.30" stroke="#3a3a3a" stroke-width="1.1" stroke-linecap="butt"/>
<polyline points="488.00,178.30 492.00,182.30" stroke="#3a3a3a" stroke-width="1.1" fill="none"/>
<text x="507.50" y="185.70" text-anchor="middle" font-size="10" >+</text>
<line x1="455.50" y1="224.50" x2="492.00" y2="224.50" stroke="#3a3a3a" stroke-width="1.1" stroke-linecap="butt"/>
<polyline points="488.00,220.50 492.00,224.50" stroke="#3a3a3a" stroke-width="1.1" fill="none"/>
<text x="507.50" y="227.90" text-anchor="middle" font-size="10" >+</text>
<line x1="455.50" y1="266.10" x2="492.00" y2="266.10" stroke="#3a3a3a" stroke-width="1.1" stroke-linecap="butt"/>
<polyline points="488.00,262.10 492.00,266.10" stroke="#3a3a3a" stroke-width="1.1" fill="none"/>
<text x="507.50" y="269.50" text-anchor="middle" font-size="10" >+</text>
<line x1="524.50" y1="183.50" x2="564.10" y2="183.50" stroke="#9ce456" stroke-width="1.1" stroke-linecap="butt"/>
<polyline points="560.10,179.50 564.10,183.50" stroke="#9ce456" stroke-width="1.1" fill="none"/>
<text x="541.20" y="180.40" text-anchor="middle" font-size="12.5" font-family="Liberation Serif">&#945;</text>
<line x1="522.10" y1="224.90" x2="563.30" y2="224.90" stroke="#9ce456" stroke-width="1.1" stroke-linecap="butt"/>
<line x1="563.30" y1="224.90" x2="571.70" y2="224.90" stroke="#7ddff0" stroke-width="1.1" stroke-linecap="butt"/>
<polyline points="522.10,224.90 526.50,229.30" stroke="#9ce456" stroke-width="1.1" fill="none"/>
<line x1="524.30" y1="267.00" x2="563.70" y2="267.00" stroke="#e64cc8" stroke-width="1.1" stroke-linecap="butt"/>
<polyline points="559.70,263.00 563.70,267.00" stroke="#e64cc8" stroke-width="1.1" fill="none"/>
<path d="M532.1,188 Q534.5,201.5 547.5,203.8" fill="none" stroke="#222" stroke-width="0.8"/>
<path d="M532.1,220.5 Q532.5,206 547.5,203.8" fill="none" stroke="#222" stroke-width="0.8"/>
<polygon points="551.00,203.80 546.80,205.70 546.80,201.90" fill="#222"/>
<g transform="translate(540.40,199.10) rotate(-42) scale(0.596)"><path d="M0.3,0 L7.5,-2.5 L7.5,2.5 Z" fill="#fff" stroke="#111" stroke-width="0.9" stroke-linejoin="round"/><path d="M0,0 L2.4,-0.85 L2.4,0.85 Z" fill="#111"/><rect x="7.5" y="-2.5" width="14" height="5" fill="#111"/><rect x="8.7" y="-1.0" width="11.6" height="2.0" fill="#5e5e5e"/><path d="M21.5,-2.4 L23.8,-2.4 A2.4,2.4 0 0 1 23.8,2.4 L21.5,2.4 Z" fill="#fff" stroke="#111" stroke-width="0.95"/></g>
<line x1="557.00" y1="203.00" x2="597.40" y2="203.00" stroke="#9ce456" stroke-width="1.1" stroke-linecap="butt"/>
<line x1="597.40" y1="203.00" x2="606.60" y2="203.00" stroke="#4aa8dc" stroke-width="1.1" stroke-linecap="butt"/>
<polyline points="602.60,199.00 606.60,203.00" stroke="#4aa8dc" stroke-width="1.1" fill="none"/>
<line x1="557.00" y1="207.50" x2="598.20" y2="207.50" stroke="#7cc142" stroke-width="1.1" stroke-linecap="butt"/>
<line x1="598.20" y1="207.50" x2="606.90" y2="207.50" stroke="#7ddff0" stroke-width="1.1" stroke-linecap="butt"/>
<polyline points="557.00,207.50 561.40,211.90" stroke="#7cc142" stroke-width="1.1" fill="none"/>
<text x="538.6" y="218.4" font-size="11.3">dT<tspan font-size="7.8" dy="2.0">n</tspan></text>
<text x="459.50" y="310.40" text-anchor="start" font-size="9.8" >2&#215;</text>
<line x1="483.60" y1="308.30" x2="523.80" y2="308.30" stroke="#9ce456" stroke-width="1.1" stroke-linecap="butt"/>
<polyline points="519.80,304.30 523.80,308.30" stroke="#9ce456" stroke-width="1.1" fill="none"/>
<text x="500.40" y="305.80" text-anchor="middle" font-size="12.5" font-family="Liberation Serif">&#945;</text>
<text x="428.6" y="336.9" font-size="10.8">Inactive <tspan font-family="Liberation Serif" font-size="12.5">&#945;</tspan></text>
<line x1="421.50" y1="346.20" x2="463.70" y2="346.20" stroke="#9ce456" stroke-width="1.1" stroke-linecap="butt"/>
<line x1="463.70" y1="346.20" x2="471.00" y2="346.20" stroke="#4aa8dc" stroke-width="1.1" stroke-linecap="butt"/>
<polyline points="467.00,342.20 471.00,346.20" stroke="#4aa8dc" stroke-width="1.1" fill="none"/>
<path d="M372.5,387.2 A11,11 0 1 1 372.5,392.9" fill="none" stroke="#111" stroke-width="0.9"/>
<path d="M383.5,400.7 A11,11 0 0 1 372.5,392.9" fill="none" stroke="#82cb45" stroke-width="0.9"/>
<line x1="354.40" y1="387.20" x2="372.50" y2="387.20" stroke="#9ce456" stroke-width="1.0" />
<line x1="349.50" y1="392.90" x2="372.50" y2="392.90" stroke="#9ce456" stroke-width="1.0" />
<polyline points="349.5,392.9 353.4,398.7" stroke="#9ce456" stroke-width="1.0" fill="none"/>
<circle cx="350.30" cy="387.20" r="1.3" fill="#111"/>
<circle cx="352.50" cy="387.20" r="1.3" fill="#111"/>
<circle cx="354.70" cy="387.20" r="1.3" fill="#111"/>
<polygon points="345.90,378.40 347.54,382.34 351.80,382.68 348.55,385.46 349.54,389.62 345.90,387.39 342.26,389.62 343.25,385.46 340.00,382.68 344.26,382.34" fill="#000"/>
<polygon points="346.20,390.01 349.10,394.00 346.20,397.99 341.50,396.47 341.50,391.53" fill="#8c8c8c"/>
<text x="359.20" y="377.60" text-anchor="middle" font-size="10.5" >rT</text>
<line x1="400.10" y1="390.40" x2="435.60" y2="390.40" stroke="#58c534" stroke-width="1.0" />
<polygon points="440.00,390.40 435.10,392.75 435.10,388.05" fill="#58c534"/>
<line x1="440.00" y1="396.50" x2="404.50" y2="396.50" stroke="#58c534" stroke-width="1.0" />
<polygon points="400.10,396.50 405.00,394.15 405.00,398.85" fill="#58c534"/>
<line x1="455.50" y1="386.70" x2="486.40" y2="386.70" stroke="#9ce456" stroke-width="1.1" stroke-linecap="butt"/>
<line x1="486.40" y1="386.70" x2="518.70" y2="386.70" stroke="#c4c4c4" stroke-width="1.1" stroke-linecap="butt"/>
<line x1="518.70" y1="386.70" x2="541.20" y2="386.70" stroke="#9ce456" stroke-width="1.1" stroke-linecap="butt"/>
<polyline points="537.20,382.70 541.20,386.70" stroke="#9ce456" stroke-width="1.1" fill="none"/>
<polyline points="451.10,383.90 455.50,386.70" stroke="#9ce456" stroke-width="1.1" fill="none"/>
<line x1="454.00" y1="391.80" x2="486.40" y2="391.80" stroke="#9ce456" stroke-width="1.1" stroke-linecap="butt"/>
<line x1="486.40" y1="391.80" x2="518.70" y2="391.80" stroke="#808080" stroke-width="1.1" stroke-linecap="butt"/>
<line x1="518.70" y1="391.80" x2="545.40" y2="391.80" stroke="#9ce456" stroke-width="1.1" stroke-linecap="butt"/>
<polyline points="454.00,391.80 458.40,396.20" stroke="#9ce456" stroke-width="1.1" fill="none"/>
<polygon points="452.00,387.81 454.90,391.80 452.00,395.79 447.30,394.27 447.30,389.33" fill="#8c8c8c"/>
<circle cx="546.4" cy="392.0" r="12.0" fill="url(#glow)"/>
<polygon points="546.40,387.00 547.72,390.18 551.16,390.45 548.54,392.70 549.34,396.05 546.40,394.25 543.46,396.05 544.26,392.70 541.64,390.45 545.08,390.18" fill="#fff"/>
</g>
<g id="pf">
<text x="6.80" y="424.00" text-anchor="start" font-size="12.5" font-weight="bold">f</text>
<circle cx="67.8" cy="440.3" r="15" fill="url(#gred)"/>
<text x="67.00" y="440.20" text-anchor="middle" font-size="10" font-style="italic">X<tspan font-size="6.20" dy="3.4" font-style="normal">1</tspan></text>
<line x1="57.80" y1="446.10" x2="79.20" y2="446.10" stroke="#333" stroke-width="0.9" />
<polyline points="75.40,444.10 79.20,446.10" stroke="#333" stroke-width="0.9" fill="none"/>
<text x="96.20" y="441.20" text-anchor="middle" font-size="9.8" font-style="italic">w<tspan font-size="6.2" dy="2.2" font-style="normal">1</tspan></text>
<line x1="83.30" y1="445.00" x2="100.22" y2="451.37" stroke="#f4a11a" stroke-width="1.0" />
<polygon points="103.50,452.60 99.12,452.88 100.39,449.51" fill="#f4a11a"/>
<circle cx="119.2" cy="462.8" r="15" fill="url(#ggreen)"/>
<text x="119.30" y="463.60" text-anchor="middle" font-size="12.5" font-family="Liberation Serif">&#945;</text>
<line x1="108.30" y1="467.80" x2="129.20" y2="467.80" stroke="#74cf38" stroke-width="0.9" />
<polyline points="125.40,465.80 129.20,467.80" stroke="#74cf38" stroke-width="0.9" fill="none"/>
<line x1="135.60" y1="461.70" x2="144.60" y2="461.70" stroke="#4ccc1e" stroke-width="1.0" />
<polygon points="148.80,461.70 144.10,463.90 144.10,459.50" fill="#4ccc1e"/>
<circle cx="156.7" cy="461.5" r="10.5" fill="url(#glow)"/>
<polygon points="156.70,457.40 157.78,460.01 160.60,460.23 158.45,462.07 159.11,464.82 156.70,463.35 154.29,464.82 154.95,462.07 152.80,460.23 155.62,460.01" fill="#fff"/>
<circle cx="244.2" cy="438.9" r="14.9" fill="url(#gred)"/>
<circle cx="244.2" cy="477.6" r="14.9" fill="url(#gred)"/>
<text x="243.60" y="439.20" text-anchor="middle" font-size="10" font-style="italic">X<tspan font-size="6.20" dy="3.4" font-style="normal">1</tspan></text>
<text x="243.20" y="477.80" text-anchor="middle" font-size="10" font-style="italic">X<tspan font-size="6.20" dy="3.4" font-style="normal">2</tspan></text>
<line x1="234.30" y1="444.30" x2="255.80" y2="444.30" stroke="#444" stroke-width="0.9" />
<polyline points="252.00,442.30 255.80,444.30" stroke="#444" stroke-width="0.9" fill="none"/>
<line x1="234.30" y1="483.30" x2="255.80" y2="483.30" stroke="#555" stroke-width="0.9" />
<polyline points="252.00,481.30 255.80,483.30" stroke="#555" stroke-width="0.9" fill="none"/>
<text x="268.00" y="438.80" text-anchor="middle" font-size="9.8" font-style="italic">w<tspan font-size="6.2" dy="2.2" font-style="normal">1</tspan></text>
<text x="268.00" y="468.30" text-anchor="middle" font-size="9.8" font-style="italic">w<tspan font-size="6.2" dy="2.2" font-style="normal">2</tspan></text>
<line x1="260.00" y1="443.20" x2="277.23" y2="449.76" stroke="#f4a11a" stroke-width="1.0" />
<polygon points="280.50,451.00 276.12,451.26 277.40,447.90" fill="#f4a11a"/>
<line x1="260.70" y1="478.80" x2="278.15" y2="471.89" stroke="#f4a11a" stroke-width="1.0" />
<polygon points="281.40,470.60 278.34,473.75 277.02,470.40" fill="#f4a11a"/>
<circle cx="295.8" cy="461.0" r="14.9" fill="url(#ggreen)"/>
<text x="296.60" y="462.80" text-anchor="middle" font-size="12.5" font-family="Liberation Serif">&#945;</text>
<line x1="285.10" y1="467.10" x2="306.20" y2="467.10" stroke="#74cf38" stroke-width="0.9" />
<polyline points="302.40,465.10 306.20,467.10" stroke="#74cf38" stroke-width="0.9" fill="none"/>
<line x1="312.30" y1="460.10" x2="321.60" y2="460.10" stroke="#4ccc1e" stroke-width="1.0" />
<polygon points="325.80,460.10 321.10,462.30 321.10,457.90" fill="#4ccc1e"/>
<circle cx="333.5" cy="460.1" r="10.5" fill="url(#glow)"/>
<polygon points="333.50,456.00 334.58,458.61 337.40,458.83 335.25,460.67 335.91,463.42 333.50,461.95 331.09,463.42 331.75,460.67 329.60,458.83 332.42,458.61" fill="#fff"/>
<circle cx="482.1" cy="459.9" r="15.3" fill="url(#ggreen)"/>
<text x="482.00" y="461.20" text-anchor="middle" font-size="12.5" font-family="Liberation Serif">&#945;</text>
<line x1="471.10" y1="465.40" x2="492.40" y2="465.40" stroke="#74cf38" stroke-width="0.9" />
<polyline points="488.60,463.40 492.40,465.40" stroke="#74cf38" stroke-width="0.9" fill="none"/>
<path d="M494.56,470.75 A16.4,16.4 0 1 0 498.19,441.79" fill="none" stroke="#ee2a2a" stroke-width="1.0"/>
<polygon points="494.56,443.65 497.03,439.45 499.38,442.93" fill="#ee2a2a"/>
<line x1="521.10" y1="458.20" x2="529.70" y2="458.20" stroke="#4ccc1e" stroke-width="1.0" />
<polygon points="533.90,458.20 529.20,460.40 529.20,456.00" fill="#4ccc1e"/>
<circle cx="541.8" cy="458.2" r="10.5" fill="url(#glow)"/>
<polygon points="541.80,454.10 542.88,456.71 545.70,456.93 543.55,458.77 544.21,461.52 541.80,460.05 539.39,461.52 540.05,458.77 537.90,456.93 540.72,456.71" fill="#fff"/>
<path d="M512.1,472.6 Q515,479 519.5,480.2" fill="none" stroke="#a78cf2" stroke-width="1.0"/>
<circle cx="522.0" cy="480.4" r="2.5" fill="#fff" stroke="#a78cf2" stroke-width="1.0"/>
<text x="527.20" y="484.40" text-anchor="start" font-size="10.6" >Bias</text>
</g>
<g id="hm">
<rect x="32.0" y="517.2" width="142.0" height="141.89999999999998" fill="none" stroke="#cfcfcf" stroke-width="0.9"/>
<rect x="34.70" y="519.80" width="27.31" height="22.72" fill="#020f04"/>
<rect x="61.96" y="519.80" width="27.31" height="22.72" fill="#35981e"/>
<rect x="89.22" y="519.80" width="27.31" height="22.72" fill="#a0cb2b"/>
<rect x="116.48" y="519.80" width="27.31" height="22.72" fill="#d6e334"/>
<rect x="143.74" y="519.80" width="27.31" height="22.72" fill="#fef634"/>
<rect x="34.70" y="542.47" width="27.31" height="22.72" fill="#031004"/>
<rect x="61.96" y="542.47" width="27.31" height="22.72" fill="#1e8620"/>
<rect x="89.22" y="542.47" width="27.31" height="22.72" fill="#6bb827"/>
<rect x="116.48" y="542.47" width="27.31" height="22.72" fill="#a8cf2d"/>
<rect x="143.74" y="542.47" width="27.31" height="22.72" fill="#eaf03a"/>
<rect x="34.70" y="565.13" width="27.31" height="22.72" fill="#020e03"/>
<rect x="61.96" y="565.13" width="27.31" height="22.72" fill="#064b14"/>
<rect x="89.22" y="565.13" width="27.31" height="22.72" fill="#0b7a1d"/>
<rect x="116.48" y="565.13" width="27.31" height="22.72" fill="#37a024"/>
<rect x="143.74" y="565.13" width="27.31" height="22.72" fill="#6fbc25"/>
<rect x="34.70" y="587.80" width="27.31" height="22.72" fill="#031005"/>
<rect x="61.96" y="587.80" width="27.31" height="22.72" fill="#053810"/>
<rect x="89.22" y="587.80" width="27.31" height="22.72" fill="#064512"/>
<rect x="116.48" y="587.80" width="27.31" height="22.72" fill="#07601a"/>
<rect x="143.74" y="587.80" width="27.31" height="22.72" fill="#10811e"/>
<rect x="34.70" y="610.47" width="27.31" height="22.72" fill="#020802"/>
<rect x="61.96" y="610.47" width="27.31" height="22.72" fill="#03290a"/>
<rect x="89.22" y="610.47" width="27.31" height="22.72" fill="#03300b"/>
<rect x="116.48" y="610.47" width="27.31" height="22.72" fill="#032c09"/>
<rect x="143.74" y="610.47" width="27.31" height="22.72" fill="#054812"/>
<rect x="34.70" y="633.13" width="27.31" height="22.72" fill="#010201"/>
<rect x="61.96" y="633.13" width="27.31" height="22.72" fill="#041a06"/>
<rect x="89.22" y="633.13" width="27.31" height="22.72" fill="#031604"/>
<rect x="116.48" y="633.13" width="27.31" height="22.72" fill="#041f08"/>
<rect x="143.74" y="633.13" width="27.31" height="22.72" fill="#031106"/>
<line x1="61.96" y1="519.80" x2="61.96" y2="655.80" stroke="#ffffff" stroke-width="0.8" stroke-opacity="0.62"/>
<line x1="89.22" y1="519.80" x2="89.22" y2="655.80" stroke="#ffffff" stroke-width="0.8" stroke-opacity="0.62"/>
<line x1="116.48" y1="519.80" x2="116.48" y2="655.80" stroke="#ffffff" stroke-width="0.8" stroke-opacity="0.62"/>
<line x1="143.74" y1="519.80" x2="143.74" y2="655.80" stroke="#ffffff" stroke-width="0.8" stroke-opacity="0.62"/>
<line x1="34.70" y1="542.47" x2="171.00" y2="542.47" stroke="#ffffff" stroke-width="0.8" stroke-opacity="0.62"/>
<line x1="34.70" y1="565.13" x2="171.00" y2="565.13" stroke="#ffffff" stroke-width="0.8" stroke-opacity="0.62"/>
<line x1="34.70" y1="587.80" x2="171.00" y2="587.80" stroke="#ffffff" stroke-width="0.8" stroke-opacity="0.62"/>
<line x1="34.70" y1="610.47" x2="171.00" y2="610.47" stroke="#ffffff" stroke-width="0.8" stroke-opacity="0.62"/>
<line x1="34.70" y1="633.13" x2="171.00" y2="633.13" stroke="#ffffff" stroke-width="0.8" stroke-opacity="0.62"/>
<text x="29.50" y="534.63" text-anchor="end" font-size="9.8" >10.0</text>
<line x1="32.00" y1="531.13" x2="33.80" y2="531.13" stroke="#cfcfcf" stroke-width="0.8" />
<text x="29.50" y="557.30" text-anchor="end" font-size="9.8" >5.0</text>
<line x1="32.00" y1="553.80" x2="33.80" y2="553.80" stroke="#cfcfcf" stroke-width="0.8" />
<text x="29.50" y="579.97" text-anchor="end" font-size="9.8" >2.5</text>
<line x1="32.00" y1="576.47" x2="33.80" y2="576.47" stroke="#cfcfcf" stroke-width="0.8" />
<text x="29.50" y="602.63" text-anchor="end" font-size="9.8" >1.3</text>
<line x1="32.00" y1="599.13" x2="33.80" y2="599.13" stroke="#cfcfcf" stroke-width="0.8" />
<text x="29.50" y="625.30" text-anchor="end" font-size="9.8" >0.6</text>
<line x1="32.00" y1="621.80" x2="33.80" y2="621.80" stroke="#cfcfcf" stroke-width="0.8" />
<text x="29.50" y="647.97" text-anchor="end" font-size="9.8" >0</text>
<line x1="32.00" y1="644.47" x2="33.80" y2="644.47" stroke="#cfcfcf" stroke-width="0.8" />
<text x="48.33" y="670.00" text-anchor="middle" font-size="9.8" >0</text>
<line x1="48.33" y1="659.10" x2="48.33" y2="657.30" stroke="#cfcfcf" stroke-width="0.8" />
<text x="75.59" y="670.00" text-anchor="middle" font-size="9.8" >0.25</text>
<line x1="75.59" y1="659.10" x2="75.59" y2="657.30" stroke="#cfcfcf" stroke-width="0.8" />
<text x="102.85" y="670.00" text-anchor="middle" font-size="9.8" >0.5</text>
<line x1="102.85" y1="659.10" x2="102.85" y2="657.30" stroke="#cfcfcf" stroke-width="0.8" />
<text x="130.11" y="670.00" text-anchor="middle" font-size="9.8" >0.75</text>
<line x1="130.11" y1="659.10" x2="130.11" y2="657.30" stroke="#cfcfcf" stroke-width="0.8" />
<text x="157.37" y="670.00" text-anchor="middle" font-size="9.8" >1.00</text>
<line x1="157.37" y1="659.10" x2="157.37" y2="657.30" stroke="#cfcfcf" stroke-width="0.8" />
<text x="104.00" y="512.40" text-anchor="middle" font-size="9.8" >Weight adjustment</text>
<text x="100.6" y="681.0" text-anchor="middle" font-size="9.8">Weight activity<tspan dx="5.5" font-style="italic">w</tspan><tspan font-size="6.4" dy="2.8">1</tspan></text>
<text transform="translate(7.90,590.40) rotate(-90)" text-anchor="middle" font-size="9.8"><tspan font-style="italic">X</tspan><tspan font-size="6.2" dy="2.2">1</tspan><tspan dy="-2.2"> (nM)</tspan></text>
<rect x="214.4" y="516.3" width="142.20000000000002" height="141.60000000000002" fill="none" stroke="#cfcfcf" stroke-width="0.9"/>
<rect x="217.30" y="519.00" width="22.83" height="22.72" fill="#d4e236"/>
<rect x="240.08" y="519.00" width="22.83" height="22.72" fill="#c5dc30"/>
<rect x="262.87" y="519.00" width="22.83" height="22.72" fill="#eaef38"/>
<rect x="285.65" y="519.00" width="22.83" height="22.72" fill="#ecef3b"/>
<rect x="308.43" y="519.00" width="22.83" height="22.72" fill="#fefb36"/>
<rect x="331.22" y="519.00" width="22.83" height="22.72" fill="#f2f23a"/>
<rect x="217.30" y="541.67" width="22.83" height="22.72" fill="#bdd82e"/>
<rect x="240.08" y="541.67" width="22.83" height="22.72" fill="#7ebd2b"/>
<rect x="262.87" y="541.67" width="22.83" height="22.72" fill="#8fc42a"/>
<rect x="285.65" y="541.67" width="22.83" height="22.72" fill="#cfe034"/>
<rect x="308.43" y="541.67" width="22.83" height="22.72" fill="#e0e836"/>
<rect x="331.22" y="541.67" width="22.83" height="22.72" fill="#d0e132"/>
<rect x="217.30" y="564.33" width="22.83" height="22.72" fill="#1e8c22"/>
<rect x="240.08" y="564.33" width="22.83" height="22.72" fill="#18851f"/>
<rect x="262.87" y="564.33" width="22.83" height="22.72" fill="#2b9521"/>
<rect x="285.65" y="564.33" width="22.83" height="22.72" fill="#69b62a"/>
<rect x="308.43" y="564.33" width="22.83" height="22.72" fill="#c3da32"/>
<rect x="331.22" y="564.33" width="22.83" height="22.72" fill="#dfe838"/>
<rect x="217.30" y="587.00" width="22.83" height="22.72" fill="#044d10"/>
<rect x="240.08" y="587.00" width="22.83" height="22.72" fill="#05621a"/>
<rect x="262.87" y="587.00" width="22.83" height="22.72" fill="#0e8120"/>
<rect x="285.65" y="587.00" width="22.83" height="22.72" fill="#43a526"/>
<rect x="308.43" y="587.00" width="22.83" height="22.72" fill="#97c82e"/>
<rect x="331.22" y="587.00" width="22.83" height="22.72" fill="#c0d930"/>
<rect x="217.30" y="609.67" width="22.83" height="22.72" fill="#022807"/>
<rect x="240.08" y="609.67" width="22.83" height="22.72" fill="#044611"/>
<rect x="262.87" y="609.67" width="22.83" height="22.72" fill="#03721b"/>
<rect x="285.65" y="609.67" width="22.83" height="22.72" fill="#279120"/>
<rect x="308.43" y="609.67" width="22.83" height="22.72" fill="#73b92b"/>
<rect x="331.22" y="609.67" width="22.83" height="22.72" fill="#bed72f"/>
<rect x="217.30" y="632.33" width="22.83" height="22.72" fill="#010101"/>
<rect x="240.08" y="632.33" width="22.83" height="22.72" fill="#042c08"/>
<rect x="262.87" y="632.33" width="22.83" height="22.72" fill="#03330a"/>
<rect x="285.65" y="632.33" width="22.83" height="22.72" fill="#52af26"/>
<rect x="308.43" y="632.33" width="22.83" height="22.72" fill="#69b62a"/>
<rect x="331.22" y="632.33" width="22.83" height="22.72" fill="#b0d12f"/>
<line x1="240.08" y1="519.00" x2="240.08" y2="655.00" stroke="#ffffff" stroke-width="0.8" stroke-opacity="0.62"/>
<line x1="262.87" y1="519.00" x2="262.87" y2="655.00" stroke="#ffffff" stroke-width="0.8" stroke-opacity="0.62"/>
<line x1="285.65" y1="519.00" x2="285.65" y2="655.00" stroke="#ffffff" stroke-width="0.8" stroke-opacity="0.62"/>
<line x1="308.43" y1="519.00" x2="308.43" y2="655.00" stroke="#ffffff" stroke-width="0.8" stroke-opacity="0.62"/>
<line x1="331.22" y1="519.00" x2="331.22" y2="655.00" stroke="#ffffff" stroke-width="0.8" stroke-opacity="0.62"/>
<line x1="217.30" y1="541.67" x2="354.00" y2="541.67" stroke="#ffffff" stroke-width="0.8" stroke-opacity="0.62"/>
<line x1="217.30" y1="564.33" x2="354.00" y2="564.33" stroke="#ffffff" stroke-width="0.8" stroke-opacity="0.62"/>
<line x1="217.30" y1="587.00" x2="354.00" y2="587.00" stroke="#ffffff" stroke-width="0.8" stroke-opacity="0.62"/>
<line x1="217.30" y1="609.67" x2="354.00" y2="609.67" stroke="#ffffff" stroke-width="0.8" stroke-opacity="0.62"/>
<line x1="217.30" y1="632.33" x2="354.00" y2="632.33" stroke="#ffffff" stroke-width="0.8" stroke-opacity="0.62"/>
<text x="211.50" y="533.83" text-anchor="end" font-size="9.8" >10.0</text>
<line x1="214.40" y1="530.33" x2="216.20" y2="530.33" stroke="#cfcfcf" stroke-width="0.8" />
<text x="211.50" y="556.50" text-anchor="end" font-size="9.8" >5.0</text>
<line x1="214.40" y1="553.00" x2="216.20" y2="553.00" stroke="#cfcfcf" stroke-width="0.8" />
<text x="211.50" y="579.17" text-anchor="end" font-size="9.8" >2.5</text>
<line x1="214.40" y1="575.67" x2="216.20" y2="575.67" stroke="#cfcfcf" stroke-width="0.8" />
<text x="211.50" y="601.83" text-anchor="end" font-size="9.8" >1.3</text>
<line x1="214.40" y1="598.33" x2="216.20" y2="598.33" stroke="#cfcfcf" stroke-width="0.8" />
<text x="211.50" y="624.50" text-anchor="end" font-size="9.8" >0.6</text>
<line x1="214.40" y1="621.00" x2="216.20" y2="621.00" stroke="#cfcfcf" stroke-width="0.8" />
<text x="211.50" y="647.17" text-anchor="end" font-size="9.8" >0</text>
<line x1="214.40" y1="643.67" x2="216.20" y2="643.67" stroke="#cfcfcf" stroke-width="0.8" />
<text x="228.69" y="668.80" text-anchor="middle" font-size="9.8" >0</text>
<line x1="228.69" y1="657.90" x2="228.69" y2="656.10" stroke="#cfcfcf" stroke-width="0.8" />
<text x="251.48" y="668.80" text-anchor="middle" font-size="9.8" >0.6</text>
<line x1="251.48" y1="657.90" x2="251.48" y2="656.10" stroke="#cfcfcf" stroke-width="0.8" />
<text x="274.26" y="668.80" text-anchor="middle" font-size="9.8" >1.3</text>
<line x1="274.26" y1="657.90" x2="274.26" y2="656.10" stroke="#cfcfcf" stroke-width="0.8" />
<text x="297.04" y="668.80" text-anchor="middle" font-size="9.8" >2.5</text>
<line x1="297.04" y1="657.90" x2="297.04" y2="656.10" stroke="#cfcfcf" stroke-width="0.8" />
<text x="319.82" y="668.80" text-anchor="middle" font-size="9.8" >5.0</text>
<line x1="319.82" y1="657.90" x2="319.82" y2="656.10" stroke="#cfcfcf" stroke-width="0.8" />
<text x="342.61" y="668.80" text-anchor="middle" font-size="9.8" >10.0</text>
<line x1="342.61" y1="657.90" x2="342.61" y2="656.10" stroke="#cfcfcf" stroke-width="0.8" />
<text x="288.30" y="512.90" text-anchor="middle" font-size="9.8" >Summation</text>
<text x="289.4" y="681.8" text-anchor="middle" font-size="9.8"><tspan font-style="italic">X</tspan><tspan font-size="6.4" dy="2.6">2</tspan><tspan dy="-2.6"> (nM)</tspan></text>
<text transform="translate(189.50,589.20) rotate(-90)" text-anchor="middle" font-size="9.8"><tspan font-style="italic">X</tspan><tspan font-size="6.2" dy="2.2">1</tspan><tspan dy="-2.2"> (nM)</tspan></text>
<rect x="364.1" y="527.7" width="8.2" height="115.3" fill="url(#cbar)"/>
<text x="375.80" y="544.30" text-anchor="start" font-size="9.8" >0.3</text>
<line x1="370.60" y1="540.80" x2="372.30" y2="540.80" stroke="#ffffff" stroke-width="0.6" />
<text x="375.80" y="580.50" text-anchor="start" font-size="9.8" >0.2</text>
<line x1="370.60" y1="577.00" x2="372.30" y2="577.00" stroke="#ffffff" stroke-width="0.6" />
<text x="375.80" y="615.80" text-anchor="start" font-size="9.8" >0.1</text>
<line x1="370.60" y1="612.30" x2="372.30" y2="612.30" stroke="#ffffff" stroke-width="0.6" />
<text x="375.80" y="646.10" text-anchor="start" font-size="9.8" >0</text>
<line x1="370.60" y1="642.60" x2="372.30" y2="642.60" stroke="#ffffff" stroke-width="0.6" />
<text transform="translate(401.80,588.00) rotate(-90)" text-anchor="middle" font-size="9.8">&#945; production (nM min<tspan font-size="6.2" dy="-3.5">&#8722;1</tspan><tspan dy="3.5">)</tspan></text>
</g>
<g id="act">
<rect x="445.5" y="516.3" width="142.8" height="143.0" fill="none" stroke="#a0a0a0" stroke-width="0.9"/>
<text x="441.80" y="661.90" text-anchor="end" font-size="9.8" >0</text>
<line x1="445.50" y1="658.40" x2="447.60" y2="658.40" stroke="#a0a0a0" stroke-width="0.8" />
<line x1="588.30" y1="658.40" x2="586.20" y2="658.40" stroke="#a0a0a0" stroke-width="0.8" />
<text x="441.80" y="634.92" text-anchor="end" font-size="9.8" >0.2</text>
<line x1="445.50" y1="631.42" x2="447.60" y2="631.42" stroke="#a0a0a0" stroke-width="0.8" />
<line x1="588.30" y1="631.42" x2="586.20" y2="631.42" stroke="#a0a0a0" stroke-width="0.8" />
<text x="441.80" y="607.94" text-anchor="end" font-size="9.8" >0.4</text>
<line x1="445.50" y1="604.44" x2="447.60" y2="604.44" stroke="#a0a0a0" stroke-width="0.8" />
<line x1="588.30" y1="604.44" x2="586.20" y2="604.44" stroke="#a0a0a0" stroke-width="0.8" />
<text x="441.80" y="580.96" text-anchor="end" font-size="9.8" >0.6</text>
<line x1="445.50" y1="577.46" x2="447.60" y2="577.46" stroke="#a0a0a0" stroke-width="0.8" />
<line x1="588.30" y1="577.46" x2="586.20" y2="577.46" stroke="#a0a0a0" stroke-width="0.8" />
<text x="441.80" y="553.98" text-anchor="end" font-size="9.8" >0.8</text>
<line x1="445.50" y1="550.48" x2="447.60" y2="550.48" stroke="#a0a0a0" stroke-width="0.8" />
<line x1="588.30" y1="550.48" x2="586.20" y2="550.48" stroke="#a0a0a0" stroke-width="0.8" />
<text x="441.80" y="527.00" text-anchor="end" font-size="9.8" >1.0</text>
<line x1="445.50" y1="523.50" x2="447.60" y2="523.50" stroke="#a0a0a0" stroke-width="0.8" />
<line x1="588.30" y1="523.50" x2="586.20" y2="523.50" stroke="#a0a0a0" stroke-width="0.8" />
<line x1="445.50" y1="644.91" x2="446.80" y2="644.91" stroke="#a0a0a0" stroke-width="0.6" />
<line x1="588.30" y1="644.91" x2="587.00" y2="644.91" stroke="#a0a0a0" stroke-width="0.6" />
<line x1="445.50" y1="617.93" x2="446.80" y2="617.93" stroke="#a0a0a0" stroke-width="0.6" />
<line x1="588.30" y1="617.93" x2="587.00" y2="617.93" stroke="#a0a0a0" stroke-width="0.6" />
<line x1="445.50" y1="590.95" x2="446.80" y2="590.95" stroke="#a0a0a0" stroke-width="0.6" />
<line x1="588.30" y1="590.95" x2="587.00" y2="590.95" stroke="#a0a0a0" stroke-width="0.6" />
<line x1="445.50" y1="563.97" x2="446.80" y2="563.97" stroke="#a0a0a0" stroke-width="0.6" />
<line x1="588.30" y1="563.97" x2="587.00" y2="563.97" stroke="#a0a0a0" stroke-width="0.6" />
<line x1="445.50" y1="536.99" x2="446.80" y2="536.99" stroke="#a0a0a0" stroke-width="0.6" />
<line x1="588.30" y1="536.99" x2="587.00" y2="536.99" stroke="#a0a0a0" stroke-width="0.6" />
<text x="448.40" y="670.00" text-anchor="middle" font-size="9.8" >0</text>
<line x1="448.40" y1="659.30" x2="448.40" y2="657.20" stroke="#a0a0a0" stroke-width="0.8" />
<line x1="448.40" y1="516.30" x2="448.40" y2="518.40" stroke="#a0a0a0" stroke-width="0.8" />
<text x="475.40" y="670.00" text-anchor="middle" font-size="9.8" >10</text>
<line x1="475.40" y1="659.30" x2="475.40" y2="657.20" stroke="#a0a0a0" stroke-width="0.8" />
<line x1="475.40" y1="516.30" x2="475.40" y2="518.40" stroke="#a0a0a0" stroke-width="0.8" />
<text x="502.40" y="670.00" text-anchor="middle" font-size="9.8" >20</text>
<line x1="502.40" y1="659.30" x2="502.40" y2="657.20" stroke="#a0a0a0" stroke-width="0.8" />
<line x1="502.40" y1="516.30" x2="502.40" y2="518.40" stroke="#a0a0a0" stroke-width="0.8" />
<text x="529.40" y="670.00" text-anchor="middle" font-size="9.8" >30</text>
<line x1="529.40" y1="659.30" x2="529.40" y2="657.20" stroke="#a0a0a0" stroke-width="0.8" />
<line x1="529.40" y1="516.30" x2="529.40" y2="518.40" stroke="#a0a0a0" stroke-width="0.8" />
<text x="556.40" y="670.00" text-anchor="middle" font-size="9.8" >40</text>
<line x1="556.40" y1="659.30" x2="556.40" y2="657.20" stroke="#a0a0a0" stroke-width="0.8" />
<line x1="556.40" y1="516.30" x2="556.40" y2="518.40" stroke="#a0a0a0" stroke-width="0.8" />
<text x="583.40" y="670.00" text-anchor="middle" font-size="9.8" >50</text>
<line x1="583.40" y1="659.30" x2="583.40" y2="657.20" stroke="#a0a0a0" stroke-width="0.8" />
<line x1="583.40" y1="516.30" x2="583.40" y2="518.40" stroke="#a0a0a0" stroke-width="0.8" />
<line x1="461.90" y1="659.30" x2="461.90" y2="658.00" stroke="#a0a0a0" stroke-width="0.6" />
<line x1="461.90" y1="516.30" x2="461.90" y2="517.60" stroke="#a0a0a0" stroke-width="0.6" />
<line x1="488.90" y1="659.30" x2="488.90" y2="658.00" stroke="#a0a0a0" stroke-width="0.6" />
<line x1="488.90" y1="516.30" x2="488.90" y2="517.60" stroke="#a0a0a0" stroke-width="0.6" />
<line x1="515.90" y1="659.30" x2="515.90" y2="658.00" stroke="#a0a0a0" stroke-width="0.6" />
<line x1="515.90" y1="516.30" x2="515.90" y2="517.60" stroke="#a0a0a0" stroke-width="0.6" />
<line x1="542.90" y1="659.30" x2="542.90" y2="658.00" stroke="#a0a0a0" stroke-width="0.6" />
<line x1="542.90" y1="516.30" x2="542.90" y2="517.60" stroke="#a0a0a0" stroke-width="0.6" />
<line x1="569.90" y1="659.30" x2="569.90" y2="658.00" stroke="#a0a0a0" stroke-width="0.6" />
<line x1="569.90" y1="516.30" x2="569.90" y2="517.60" stroke="#a0a0a0" stroke-width="0.6" />
<text x="514.90" y="511.30" text-anchor="middle" font-size="9.8" >Activation function</text>
<text x="516.8" y="680.0" text-anchor="middle" font-size="9.8">&#945; concentration at <tspan font-style="italic">t</tspan> = 0 (nM)</text>
<text transform="translate(421.80,589.50) rotate(-90)" text-anchor="middle" font-size="9.8">Normalized fluo. (<tspan font-style="italic">t</tspan> = 1,000 min)</text>
<polyline points="448.40,524.17 448.74,524.17 449.07,524.17 449.41,524.17 449.75,524.17 450.09,524.17 450.42,524.17 450.76,524.17 451.10,524.17 451.44,524.17 451.77,524.17 452.11,524.17 452.45,524.17 452.79,524.17 453.12,524.17 453.46,524.17 453.80,524.17 454.14,524.17 454.47,524.17 454.81,524.17 455.15,524.17 455.49,524.17 455.82,524.17 456.16,524.17 456.50,524.17 456.84,524.17 457.17,524.17 457.51,524.17 457.85,524.17 458.19,524.17 458.52,524.17 458.86,524.17 459.20,524.17 459.54,524.17 459.88,524.17 460.21,524.17 460.55,524.17 460.89,524.17 461.22,524.17 461.56,524.17 461.90,524.17 462.24,524.17 462.57,524.17 462.91,524.17 463.25,524.17 463.59,524.17 463.92,524.17 464.26,524.17 464.60,524.17 464.94,524.17 465.27,524.17 465.61,524.17 465.95,524.17 466.29,524.17 466.62,524.17 466.96,524.17 467.30,524.17 467.64,524.17 467.97,524.17 468.31,524.17 468.65,524.17 468.99,524.17 469.32,524.17 469.66,524.17 470.00,524.17 470.34,524.17 470.67,524.17 471.01,524.17 471.35,524.17 471.69,524.17 472.02,524.17 472.36,524.17 472.70,524.17 473.04,524.17 473.38,524.17 473.71,524.17 474.05,524.17 474.39,524.17 474.72,524.17 475.06,524.17 475.40,524.17 475.74,524.17 476.07,524.17 476.41,524.17 476.75,524.17 477.09,524.17 477.42,524.17 477.76,524.17 478.10,524.17 478.44,524.17 478.77,524.17 479.11,524.17 479.45,524.17 479.79,524.17 480.12,524.17 480.46,524.17 480.80,524.17 481.14,524.17 481.47,524.17 481.81,524.17 482.15,524.17 482.49,524.17 482.82,524.17 483.16,524.17 483.50,524.17 483.84,524.17 484.17,524.17 484.51,524.17 484.85,524.17 485.19,524.17 485.52,524.17 485.86,524.17 486.20,524.17 486.54,524.17 486.88,524.17 487.21,524.17 487.55,524.17 487.89,524.17 488.22,524.17 488.56,524.17 488.90,524.17 489.24,524.17 489.57,524.17 489.91,524.17 490.25,524.17 490.59,524.17 490.92,524.17 491.26,524.17 491.60,524.17 491.94,524.17 492.27,524.17 492.61,524.17 492.95,524.17 493.29,524.17 493.62,524.17 493.96,524.17 494.30,524.17 494.64,524.17 494.97,524.17 495.31,524.17 495.65,524.17 495.99,524.17 496.32,524.17 496.66,524.17 497.00,524.17 497.34,524.17 497.67,524.17 498.01,524.17 498.35,524.17 498.69,524.17 499.02,524.17 499.36,524.17 499.70,524.17 500.04,524.17 500.38,524.17 500.71,524.17 501.05,524.17 501.39,524.17 501.72,524.17 502.06,524.17 502.40,524.17 502.74,524.17 503.07,524.17 503.41,524.17 503.75,524.17 504.09,524.17 504.42,524.17 504.76,524.17 505.10,524.17 505.44,524.17 505.77,524.17 506.11,524.17 506.45,524.17 506.79,524.17 507.12,524.17 507.46,524.17 507.80,524.17 508.14,524.17 508.47,524.17 508.81,524.17 509.15,524.17 509.49,524.17 509.82,524.17 510.16,524.17 510.50,524.17 510.84,524.17 511.17,524.17 511.51,524.17 511.85,524.17 512.19,524.17 512.52,524.17 512.86,524.17 513.20,524.17 513.54,524.17 513.88,524.17 514.21,524.17 514.55,524.17 514.89,524.17 515.23,524.17 515.56,524.17 515.90,524.17 516.24,524.17 516.57,524.17 516.91,524.17 517.25,524.17 517.59,524.17 517.92,524.17 518.26,524.17 518.60,524.17 518.94,524.17 519.27,524.17 519.61,524.17 519.95,524.17 520.29,524.17 520.62,524.17 520.96,524.17 521.30,524.17 521.64,524.17 521.98,524.17 522.31,524.17 522.65,524.17 522.99,524.17 523.32,524.17 523.66,524.17 524.00,524.17 524.34,524.17 524.67,524.17 525.01,524.17 525.35,524.17 525.69,524.17 526.02,524.17 526.36,524.17 526.70,524.17 527.04,524.17 527.38,524.17 527.71,524.17 528.05,524.17 528.39,524.17 528.73,524.17 529.06,524.17 529.40,524.17 529.74,524.17 530.07,524.17 530.41,524.17 530.75,524.17 531.09,524.17 531.42,524.17 531.76,524.17 532.10,524.17 532.44,524.17 532.77,524.17 533.11,524.17 533.45,524.17 533.79,524.17 534.12,524.17 534.46,524.17 534.80,524.17 535.14,524.17 535.48,524.17 535.81,524.17 536.15,524.17 536.49,524.17 536.82,524.17 537.16,524.17 537.50,524.17 537.84,524.17 538.17,524.17 538.51,524.17 538.85,524.17 539.19,524.17 539.52,524.17 539.86,524.17 540.20,524.17 540.54,524.17 540.88,524.17 541.21,524.17 541.55,524.17 541.89,524.17 542.23,524.17 542.56,524.17 542.90,524.17 543.24,524.17 543.57,524.17 543.91,524.17 544.25,524.17 544.59,524.17 544.92,524.17 545.26,524.17 545.60,524.17 545.94,524.17 546.27,524.17 546.61,524.17 546.95,524.17 547.29,524.17 547.62,524.17 547.96,524.17 548.30,524.17 548.64,524.17 548.98,524.17 549.31,524.17 549.65,524.17 549.99,524.17 550.32,524.17 550.66,524.17 551.00,524.17 551.34,524.17 551.67,524.17 552.01,524.17 552.35,524.17 552.69,524.17 553.02,524.17 553.36,524.17 553.70,524.17 554.04,524.17 554.38,524.17 554.71,524.17 555.05,524.17 555.39,524.17 555.73,524.17 556.06,524.17 556.40,524.17 556.74,524.17 557.07,524.17 557.41,524.17 557.75,524.17 558.09,524.17 558.42,524.17 558.76,524.17 559.10,524.17 559.44,524.17 559.77,524.17 560.11,524.17 560.45,524.17 560.79,524.17 561.12,524.17 561.46,524.17 561.80,524.17 562.14,524.17 562.48,524.17 562.81,524.17 563.15,524.17 563.49,524.17 563.82,524.17 564.16,524.17 564.50,524.17 564.84,524.17 565.17,524.17 565.51,524.17 565.85,524.17 566.19,524.17 566.52,524.17 566.86,524.17 567.20,524.17 567.54,524.17 567.88,524.17 568.21,524.17 568.55,524.17 568.89,524.17 569.23,524.17 569.56,524.17 569.90,524.17 570.24,524.17 570.57,524.17 570.91,524.17 571.25,524.17 571.59,524.17 571.92,524.17 572.26,524.17 572.60,524.17 572.94,524.17 573.27,524.17 573.61,524.17 573.95,524.17 574.29,524.17 574.62,524.17 574.96,524.17 575.30,524.17 575.64,524.17 575.98,524.17 576.31,524.17 576.65,524.17 576.99,524.17 577.33,524.17 577.66,524.17 578.00,524.17 578.34,524.17 578.67,524.17 579.01,524.17 579.35,524.17 579.69,524.17 580.02,524.17 580.36,524.17 580.70,524.17 581.04,524.17 581.38,524.17 581.71,524.17 582.05,524.17 582.39,524.17 582.72,524.17 583.06,524.17 583.40,524.17" fill="none" stroke="#000000" stroke-width="1.15" stroke-dasharray="1.4,1.3"/>
<polyline points="448.40,614.08 448.74,613.56 449.07,612.98 449.41,612.33 449.75,611.60 450.09,610.78 450.42,609.86 450.76,608.84 451.10,607.70 451.44,606.44 451.77,605.05 452.11,603.52 452.45,601.85 452.79,600.03 453.12,598.05 453.46,595.91 453.80,593.63 454.14,591.19 454.47,588.61 454.81,585.90 455.15,583.08 455.49,580.16 455.82,577.17 456.16,574.12 456.50,571.05 456.84,567.98 457.17,564.93 457.51,561.94 457.85,559.02 458.19,556.20 458.52,553.49 458.86,550.91 459.20,548.48 459.54,546.19 459.88,544.06 460.21,542.08 460.55,540.25 460.89,538.58 461.22,537.05 461.56,535.66 461.90,534.40 462.24,533.27 462.57,532.24 462.91,531.33 463.25,530.51 463.59,529.77 463.92,529.12 464.26,528.54 464.60,528.03 464.94,527.57 465.27,527.17 465.61,526.81 465.95,526.49 466.29,526.21 466.62,525.97 466.96,525.75 467.30,525.56 467.64,525.39 467.97,525.24 468.31,525.11 468.65,525.00 468.99,524.90 469.32,524.81 469.66,524.73 470.00,524.66 470.34,524.60 470.67,524.55 471.01,524.51 471.35,524.46 471.69,524.43 472.02,524.40 472.36,524.37 472.70,524.35 473.04,524.33 473.38,524.31 473.71,524.29 474.05,524.28 474.39,524.26 474.72,524.25 475.06,524.24 475.40,524.23 475.74,524.23 476.07,524.22 476.41,524.22 476.75,524.21 477.09,524.21 477.42,524.20 477.76,524.20 478.10,524.20 478.44,524.19 478.77,524.19 479.11,524.19 479.45,524.19 479.79,524.19 480.12,524.18 480.46,524.18 480.80,524.18 481.14,524.18 481.47,524.18 481.81,524.18 482.15,524.18 482.49,524.18 482.82,524.18 483.16,524.18 483.50,524.18 483.84,524.18 484.17,524.18 484.51,524.18 484.85,524.18 485.19,524.18 485.52,524.18 485.86,524.18 486.20,524.18 486.54,524.18 486.88,524.18 487.21,524.18 487.55,524.18 487.89,524.17 488.22,524.17 488.56,524.17 488.90,524.17 489.24,524.17 489.57,524.17 489.91,524.17 490.25,524.17 490.59,524.17 490.92,524.17 491.26,524.17 491.60,524.17 491.94,524.17 492.27,524.17 492.61,524.17 492.95,524.17 493.29,524.17 493.62,524.17 493.96,524.17 494.30,524.17 494.64,524.17 494.97,524.17 495.31,524.17 495.65,524.17 495.99,524.17 496.32,524.17 496.66,524.17 497.00,524.17 497.34,524.17 497.67,524.17 498.01,524.17 498.35,524.17 498.69,524.17 499.02,524.17 499.36,524.17 499.70,524.17 500.04,524.17 500.38,524.17 500.71,524.17 501.05,524.17 501.39,524.17 501.72,524.17 502.06,524.17 502.40,524.17 502.74,524.17 503.07,524.17 503.41,524.17 503.75,524.17 504.09,524.17 504.42,524.17 504.76,524.17 505.10,524.17 505.44,524.17 505.77,524.17 506.11,524.17 506.45,524.17 506.79,524.17 507.12,524.17 507.46,524.17 507.80,524.17 508.14,524.17 508.47,524.17 508.81,524.17 509.15,524.17 509.49,524.17 509.82,524.17 510.16,524.17 510.50,524.17 510.84,524.17 511.17,524.17 511.51,524.17 511.85,524.17 512.19,524.17 512.52,524.17 512.86,524.17 513.20,524.17 513.54,524.17 513.88,524.17 514.21,524.17 514.55,524.17 514.89,524.17 515.23,524.17 515.56,524.17 515.90,524.17 516.24,524.17 516.57,524.17 516.91,524.17 517.25,524.17 517.59,524.17 517.92,524.17 518.26,524.17 518.60,524.17 518.94,524.17 519.27,524.17 519.61,524.17 519.95,524.17 520.29,524.17 520.62,524.17 520.96,524.17 521.30,524.17 521.64,524.17 521.98,524.17 522.31,524.17 522.65,524.17 522.99,524.17 523.32,524.17 523.66,524.17 524.00,524.17 524.34,524.17 524.67,524.17 525.01,524.17 525.35,524.17 525.69,524.17 526.02,524.17 526.36,524.17 526.70,524.17 527.04,524.17 527.38,524.17 527.71,524.17 528.05,524.17 528.39,524.17 528.73,524.17 529.06,524.17 529.40,524.17 529.74,524.17 530.07,524.17 530.41,524.17 530.75,524.17 531.09,524.17 531.42,524.17 531.76,524.17 532.10,524.17 532.44,524.17 532.77,524.17 533.11,524.17 533.45,524.17 533.79,524.17 534.12,524.17 534.46,524.17 534.80,524.17 535.14,524.17 535.48,524.17 535.81,524.17 536.15,524.17 536.49,524.17 536.82,524.17 537.16,524.17 537.50,524.17 537.84,524.17 538.17,524.17 538.51,524.17 538.85,524.17 539.19,524.17 539.52,524.17 539.86,524.17 540.20,524.17 540.54,524.17 540.88,524.17 541.21,524.17 541.55,524.17 541.89,524.17 542.23,524.17 542.56,524.17 542.90,524.17 543.24,524.17 543.57,524.17 543.91,524.17 544.25,524.17 544.59,524.17 544.92,524.17 545.26,524.17 545.60,524.17 545.94,524.17 546.27,524.17 546.61,524.17 546.95,524.17 547.29,524.17 547.62,524.17 547.96,524.17 548.30,524.17 548.64,524.17 548.98,524.17 549.31,524.17 549.65,524.17 549.99,524.17 550.32,524.17 550.66,524.17 551.00,524.17 551.34,524.17 551.67,524.17 552.01,524.17 552.35,524.17 552.69,524.17 553.02,524.17 553.36,524.17 553.70,524.17 554.04,524.17 554.38,524.17 554.71,524.17 555.05,524.17 555.39,524.17 555.73,524.17 556.06,524.17 556.40,524.17 556.74,524.17 557.07,524.17 557.41,524.17 557.75,524.17 558.09,524.17 558.42,524.17 558.76,524.17 559.10,524.17 559.44,524.17 559.77,524.17 560.11,524.17 560.45,524.17 560.79,524.17 561.12,524.17 561.46,524.17 561.80,524.17 562.14,524.17 562.48,524.17 562.81,524.17 563.15,524.17 563.49,524.17 563.82,524.17 564.16,524.17 564.50,524.17 564.84,524.17 565.17,524.17 565.51,524.17 565.85,524.17 566.19,524.17 566.52,524.17 566.86,524.17 567.20,524.17 567.54,524.17 567.88,524.17 568.21,524.17 568.55,524.17 568.89,524.17 569.23,524.17 569.56,524.17 569.90,524.17 570.24,524.17 570.57,524.17 570.91,524.17 571.25,524.17 571.59,524.17 571.92,524.17 572.26,524.17 572.60,524.17 572.94,524.17 573.27,524.17 573.61,524.17 573.95,524.17 574.29,524.17 574.62,524.17 574.96,524.17 575.30,524.17 575.64,524.17 575.98,524.17 576.31,524.17 576.65,524.17 576.99,524.17 577.33,524.17 577.66,524.17 578.00,524.17 578.34,524.17 578.67,524.17 579.01,524.17 579.35,524.17 579.69,524.17 580.02,524.17 580.36,524.17 580.70,524.17 581.04,524.17 581.38,524.17 581.71,524.17 582.05,524.17 582.39,524.17 582.72,524.17 583.06,524.17 583.40,524.17" fill="none" stroke="#17601f" stroke-width="1.15" stroke-dasharray="1.4,1.3"/>
<polyline points="448.40,624.60 448.74,624.59 449.07,624.58 449.41,624.57 449.75,624.55 450.09,624.54 450.42,624.52 450.76,624.50 451.10,624.47 451.44,624.44 451.77,624.41 452.11,624.38 452.45,624.34 452.79,624.30 453.12,624.25 453.46,624.19 453.80,624.12 454.14,624.05 454.47,623.97 454.81,623.87 455.15,623.77 455.49,623.65 455.82,623.51 456.16,623.36 456.50,623.19 456.84,623.00 457.17,622.78 457.51,622.53 457.85,622.25 458.19,621.94 458.52,621.58 458.86,621.19 459.20,620.74 459.54,620.24 459.88,619.68 460.21,619.05 460.55,618.35 460.89,617.56 461.22,616.69 461.56,615.72 461.90,614.65 462.24,613.46 462.57,612.16 462.91,610.72 463.25,609.15 463.59,607.44 463.92,605.58 464.26,603.57 464.60,601.41 464.94,599.10 465.27,596.65 465.61,594.05 465.95,591.33 466.29,588.49 466.62,585.54 466.96,582.52 467.30,579.43 467.64,576.31 467.97,573.17 468.31,570.04 468.65,566.94 468.99,563.90 469.32,560.94 469.66,558.08 470.00,555.33 470.34,552.71 470.67,550.23 471.01,547.89 471.35,545.70 471.69,543.66 472.02,541.77 472.36,540.03 472.70,538.43 473.04,536.97 473.38,535.64 473.71,534.43 474.05,533.33 474.39,532.34 474.72,531.45 475.06,530.65 475.40,529.94 475.74,529.29 476.07,528.72 476.41,528.21 476.75,527.75 477.09,527.34 477.42,526.98 477.76,526.66 478.10,526.37 478.44,526.12 478.77,525.90 479.11,525.70 479.45,525.52 479.79,525.36 480.12,525.23 480.46,525.10 480.80,524.99 481.14,524.90 481.47,524.81 481.81,524.74 482.15,524.67 482.49,524.62 482.82,524.56 483.16,524.52 483.50,524.48 483.84,524.44 484.17,524.41 484.51,524.38 484.85,524.36 485.19,524.34 485.52,524.32 485.86,524.30 486.20,524.29 486.54,524.27 486.88,524.26 487.21,524.25 487.55,524.24 487.89,524.23 488.22,524.23 488.56,524.22 488.90,524.22 489.24,524.21 489.57,524.21 489.91,524.20 490.25,524.20 490.59,524.20 490.92,524.19 491.26,524.19 491.60,524.19 491.94,524.19 492.27,524.19 492.61,524.18 492.95,524.18 493.29,524.18 493.62,524.18 493.96,524.18 494.30,524.18 494.64,524.18 494.97,524.18 495.31,524.18 495.65,524.18 495.99,524.18 496.32,524.18 496.66,524.18 497.00,524.18 497.34,524.18 497.67,524.18 498.01,524.18 498.35,524.18 498.69,524.18 499.02,524.18 499.36,524.18 499.70,524.18 500.04,524.18 500.38,524.18 500.71,524.18 501.05,524.17 501.39,524.17 501.72,524.17 502.06,524.17 502.40,524.17 502.74,524.17 503.07,524.17 503.41,524.17 503.75,524.17 504.09,524.17 504.42,524.17 504.76,524.17 505.10,524.17 505.44,524.17 505.77,524.17 506.11,524.17 506.45,524.17 506.79,524.17 507.12,524.17 507.46,524.17 507.80,524.17 508.14,524.17 508.47,524.17 508.81,524.17 509.15,524.17 509.49,524.17 509.82,524.17 510.16,524.17 510.50,524.17 510.84,524.17 511.17,524.17 511.51,524.17 511.85,524.17 512.19,524.17 512.52,524.17 512.86,524.17 513.20,524.17 513.54,524.17 513.88,524.17 514.21,524.17 514.55,524.17 514.89,524.17 515.23,524.17 515.56,524.17 515.90,524.17 516.24,524.17 516.57,524.17 516.91,524.17 517.25,524.17 517.59,524.17 517.92,524.17 518.26,524.17 518.60,524.17 518.94,524.17 519.27,524.17 519.61,524.17 519.95,524.17 520.29,524.17 520.62,524.17 520.96,524.17 521.30,524.17 521.64,524.17 521.98,524.17 522.31,524.17 522.65,524.17 522.99,524.17 523.32,524.17 523.66,524.17 524.00,524.17 524.34,524.17 524.67,524.17 525.01,524.17 525.35,524.17 525.69,524.17 526.02,524.17 526.36,524.17 526.70,524.17 527.04,524.17 527.38,524.17 527.71,524.17 528.05,524.17 528.39,524.17 528.73,524.17 529.06,524.17 529.40,524.17 529.74,524.17 530.07,524.17 530.41,524.17 530.75,524.17 531.09,524.17 531.42,524.17 531.76,524.17 532.10,524.17 532.44,524.17 532.77,524.17 533.11,524.17 533.45,524.17 533.79,524.17 534.12,524.17 534.46,524.17 534.80,524.17 535.14,524.17 535.48,524.17 535.81,524.17 536.15,524.17 536.49,524.17 536.82,524.17 537.16,524.17 537.50,524.17 537.84,524.17 538.17,524.17 538.51,524.17 538.85,524.17 539.19,524.17 539.52,524.17 539.86,524.17 540.20,524.17 540.54,524.17 540.88,524.17 541.21,524.17 541.55,524.17 541.89,524.17 542.23,524.17 542.56,524.17 542.90,524.17 543.24,524.17 543.57,524.17 543.91,524.17 544.25,524.17 544.59,524.17 544.92,524.17 545.26,524.17 545.60,524.17 545.94,524.17 546.27,524.17 546.61,524.17 546.95,524.17 547.29,524.17 547.62,524.17 547.96,524.17 548.30,524.17 548.64,524.17 548.98,524.17 549.31,524.17 549.65,524.17 549.99,524.17 550.32,524.17 550.66,524.17 551.00,524.17 551.34,524.17 551.67,524.17 552.01,524.17 552.35,524.17 552.69,524.17 553.02,524.17 553.36,524.17 553.70,524.17 554.04,524.17 554.38,524.17 554.71,524.17 555.05,524.17 555.39,524.17 555.73,524.17 556.06,524.17 556.40,524.17 556.74,524.17 557.07,524.17 557.41,524.17 557.75,524.17 558.09,524.17 558.42,524.17 558.76,524.17 559.10,524.17 559.44,524.17 559.77,524.17 560.11,524.17 560.45,524.17 560.79,524.17 561.12,524.17 561.46,524.17 561.80,524.17 562.14,524.17 562.48,524.17 562.81,524.17 563.15,524.17 563.49,524.17 563.82,524.17 564.16,524.17 564.50,524.17 564.84,524.17 565.17,524.17 565.51,524.17 565.85,524.17 566.19,524.17 566.52,524.17 566.86,524.17 567.20,524.17 567.54,524.17 567.88,524.17 568.21,524.17 568.55,524.17 568.89,524.17 569.23,524.17 569.56,524.17 569.90,524.17 570.24,524.17 570.57,524.17 570.91,524.17 571.25,524.17 571.59,524.17 571.92,524.17 572.26,524.17 572.60,524.17 572.94,524.17 573.27,524.17 573.61,524.17 573.95,524.17 574.29,524.17 574.62,524.17 574.96,524.17 575.30,524.17 575.64,524.17 575.98,524.17 576.31,524.17 576.65,524.17 576.99,524.17 577.33,524.17 577.66,524.17 578.00,524.17 578.34,524.17 578.67,524.17 579.01,524.17 579.35,524.17 579.69,524.17 580.02,524.17 580.36,524.17 580.70,524.17 581.04,524.17 581.38,524.17 581.71,524.17 582.05,524.17 582.39,524.17 582.72,524.17 583.06,524.17 583.40,524.17" fill="none" stroke="#2a8a2a" stroke-width="1.15" stroke-dasharray="1.4,1.3"/>
<polyline points="448.40,624.67 448.74,624.67 449.07,624.67 449.41,624.67 449.75,624.67 450.09,624.67 450.42,624.67 450.76,624.67 451.10,624.67 451.44,624.67 451.77,624.67 452.11,624.67 452.45,624.67 452.79,624.67 453.12,624.67 453.46,624.67 453.80,624.67 454.14,624.67 454.47,624.67 454.81,624.67 455.15,624.67 455.49,624.67 455.82,624.67 456.16,624.67 456.50,624.67 456.84,624.67 457.17,624.67 457.51,624.67 457.85,624.67 458.19,624.67 458.52,624.67 458.86,624.67 459.20,624.67 459.54,624.67 459.88,624.67 460.21,624.67 460.55,624.67 460.89,624.67 461.22,624.67 461.56,624.67 461.90,624.66 462.24,624.66 462.57,624.66 462.91,624.66 463.25,624.66 463.59,624.66 463.92,624.65 464.26,624.65 464.60,624.65 464.94,624.65 465.27,624.64 465.61,624.64 465.95,624.63 466.29,624.63 466.62,624.62 466.96,624.62 467.30,624.61 467.64,624.60 467.97,624.59 468.31,624.58 468.65,624.57 468.99,624.55 469.32,624.54 469.66,624.52 470.00,624.50 470.34,624.48 470.67,624.46 471.01,624.43 471.35,624.40 471.69,624.36 472.02,624.32 472.36,624.28 472.70,624.23 473.04,624.17 473.38,624.11 473.71,624.04 474.05,623.96 474.39,623.87 474.72,623.77 475.06,623.66 475.40,623.53 475.74,623.39 476.07,623.23 476.41,623.05 476.75,622.85 477.09,622.62 477.42,622.37 477.76,622.09 478.10,621.77 478.44,621.42 478.77,621.02 479.11,620.58 479.45,620.09 479.79,619.54 480.12,618.93 480.46,618.25 480.80,617.50 481.14,616.66 481.47,615.74 481.81,614.73 482.15,613.61 482.49,612.39 482.82,611.05 483.16,609.59 483.50,608.00 483.84,606.28 484.17,604.43 484.51,602.45 484.85,600.32 485.19,598.06 485.52,595.68 485.86,593.17 486.20,590.54 486.54,587.82 486.88,585.01 487.21,582.12 487.55,579.18 487.89,576.21 488.22,573.23 488.56,570.26 488.90,567.31 489.24,564.42 489.57,561.59 489.91,558.84 490.25,556.20 490.59,553.67 490.92,551.25 491.26,548.97 491.60,546.82 491.94,544.80 492.27,542.92 492.61,541.18 492.95,539.57 493.29,538.08 493.62,536.72 493.96,535.47 494.30,534.34 494.64,533.30 494.97,532.36 495.31,531.51 495.65,530.74 495.99,530.05 496.32,529.43 496.66,528.87 497.00,528.36 497.34,527.91 497.67,527.51 498.01,527.15 498.35,526.82 498.69,526.53 499.02,526.27 499.36,526.04 499.70,525.84 500.04,525.65 500.38,525.49 500.71,525.34 501.05,525.22 501.39,525.10 501.72,525.00 502.06,524.91 502.40,524.82 502.74,524.75 503.07,524.69 503.41,524.63 503.75,524.58 504.09,524.53 504.42,524.49 504.76,524.46 505.10,524.43 505.44,524.40 505.77,524.37 506.11,524.35 506.45,524.33 506.79,524.31 507.12,524.30 507.46,524.28 507.80,524.27 508.14,524.26 508.47,524.25 508.81,524.24 509.15,524.24 509.49,524.23 509.82,524.22 510.16,524.22 510.50,524.21 510.84,524.21 511.17,524.20 511.51,524.20 511.85,524.20 512.19,524.20 512.52,524.19 512.86,524.19 513.20,524.19 513.54,524.19 513.88,524.19 514.21,524.18 514.55,524.18 514.89,524.18 515.23,524.18 515.56,524.18 515.90,524.18 516.24,524.18 516.57,524.18 516.91,524.18 517.25,524.18 517.59,524.18 517.92,524.18 518.26,524.18 518.60,524.18 518.94,524.18 519.27,524.18 519.61,524.18 519.95,524.18 520.29,524.18 520.62,524.18 520.96,524.18 521.30,524.18 521.64,524.18 521.98,524.18 522.31,524.18 522.65,524.18 522.99,524.17 523.32,524.17 523.66,524.17 524.00,524.17 524.34,524.17 524.67,524.17 525.01,524.17 525.35,524.17 525.69,524.17 526.02,524.17 526.36,524.17 526.70,524.17 527.04,524.17 527.38,524.17 527.71,524.17 528.05,524.17 528.39,524.17 528.73,524.17 529.06,524.17 529.40,524.17 529.74,524.17 530.07,524.17 530.41,524.17 530.75,524.17 531.09,524.17 531.42,524.17 531.76,524.17 532.10,524.17 532.44,524.17 532.77,524.17 533.11,524.17 533.45,524.17 533.79,524.17 534.12,524.17 534.46,524.17 534.80,524.17 535.14,524.17 535.48,524.17 535.81,524.17 536.15,524.17 536.49,524.17 536.82,524.17 537.16,524.17 537.50,524.17 537.84,524.17 538.17,524.17 538.51,524.17 538.85,524.17 539.19,524.17 539.52,524.17 539.86,524.17 540.20,524.17 540.54,524.17 540.88,524.17 541.21,524.17 541.55,524.17 541.89,524.17 542.23,524.17 542.56,524.17 542.90,524.17 543.24,524.17 543.57,524.17 543.91,524.17 544.25,524.17 544.59,524.17 544.92,524.17 545.26,524.17 545.60,524.17 545.94,524.17 546.27,524.17 546.61,524.17 546.95,524.17 547.29,524.17 547.62,524.17 547.96,524.17 548.30,524.17 548.64,524.17 548.98,524.17 549.31,524.17 549.65,524.17 549.99,524.17 550.32,524.17 550.66,524.17 551.00,524.17 551.34,524.17 551.67,524.17 552.01,524.17 552.35,524.17 552.69,524.17 553.02,524.17 553.36,524.17 553.70,524.17 554.04,524.17 554.38,524.17 554.71,524.17 555.05,524.17 555.39,524.17 555.73,524.17 556.06,524.17 556.40,524.17 556.74,524.17 557.07,524.17 557.41,524.17 557.75,524.17 558.09,524.17 558.42,524.17 558.76,524.17 559.10,524.17 559.44,524.17 559.77,524.17 560.11,524.17 560.45,524.17 560.79,524.17 561.12,524.17 561.46,524.17 561.80,524.17 562.14,524.17 562.48,524.17 562.81,524.17 563.15,524.17 563.49,524.17 563.82,524.17 564.16,524.17 564.50,524.17 564.84,524.17 565.17,524.17 565.51,524.17 565.85,524.17 566.19,524.17 566.52,524.17 566.86,524.17 567.20,524.17 567.54,524.17 567.88,524.17 568.21,524.17 568.55,524.17 568.89,524.17 569.23,524.17 569.56,524.17 569.90,524.17 570.24,524.17 570.57,524.17 570.91,524.17 571.25,524.17 571.59,524.17 571.92,524.17 572.26,524.17 572.60,524.17 572.94,524.17 573.27,524.17 573.61,524.17 573.95,524.17 574.29,524.17 574.62,524.17 574.96,524.17 575.30,524.17 575.64,524.17 575.98,524.17 576.31,524.17 576.65,524.17 576.99,524.17 577.33,524.17 577.66,524.17 578.00,524.17 578.34,524.17 578.67,524.17 579.01,524.17 579.35,524.17 579.69,524.17 580.02,524.17 580.36,524.17 580.70,524.17 581.04,524.17 581.38,524.17 581.71,524.17 582.05,524.17 582.39,524.17 582.72,524.17 583.06,524.17 583.40,524.17" fill="none" stroke="#62b533" stroke-width="1.15" stroke-dasharray="1.4,1.3"/>
<polyline points="448.40,624.67 448.74,624.67 449.07,624.67 449.41,624.67 449.75,624.67 450.09,624.67 450.42,624.67 450.76,624.67 451.10,624.67 451.44,624.67 451.77,624.67 452.11,624.67 452.45,624.67 452.79,624.67 453.12,624.67 453.46,624.67 453.80,624.67 454.14,624.67 454.47,624.67 454.81,624.67 455.15,624.67 455.49,624.67 455.82,624.67 456.16,624.67 456.50,624.67 456.84,624.67 457.17,624.67 457.51,624.67 457.85,624.67 458.19,624.67 458.52,624.67 458.86,624.67 459.20,624.67 459.54,624.67 459.88,624.67 460.21,624.67 460.55,624.67 460.89,624.67 461.22,624.67 461.56,624.67 461.90,624.67 462.24,624.67 462.57,624.67 462.91,624.67 463.25,624.67 463.59,624.67 463.92,624.67 464.26,624.67 464.60,624.67 464.94,624.67 465.27,624.67 465.61,624.67 465.95,624.67 466.29,624.67 466.62,624.67 466.96,624.67 467.30,624.67 467.64,624.67 467.97,624.67 468.31,624.67 468.65,624.67 468.99,624.67 469.32,624.67 469.66,624.67 470.00,624.67 470.34,624.67 470.67,624.67 471.01,624.67 471.35,624.67 471.69,624.67 472.02,624.67 472.36,624.67 472.70,624.67 473.04,624.67 473.38,624.67 473.71,624.67 474.05,624.67 474.39,624.67 474.72,624.67 475.06,624.67 475.40,624.67 475.74,624.67 476.07,624.67 476.41,624.67 476.75,624.67 477.09,624.67 477.42,624.67 477.76,624.67 478.10,624.67 478.44,624.67 478.77,624.67 479.11,624.67 479.45,624.67 479.79,624.67 480.12,624.67 480.46,624.67 480.80,624.67 481.14,624.67 481.47,624.67 481.81,624.67 482.15,624.67 482.49,624.67 482.82,624.67 483.16,624.67 483.50,624.67 483.84,624.67 484.17,624.67 484.51,624.67 484.85,624.67 485.19,624.67 485.52,624.67 485.86,624.67 486.20,624.67 486.54,624.67 486.88,624.67 487.21,624.67 487.55,624.67 487.89,624.67 488.22,624.67 488.56,624.66 488.90,624.66 489.24,624.66 489.57,624.66 489.91,624.66 490.25,624.66 490.59,624.65 490.92,624.65 491.26,624.65 491.60,624.64 491.94,624.64 492.27,624.64 492.61,624.63 492.95,624.63 493.29,624.62 493.62,624.62 493.96,624.61 494.30,624.60 494.64,624.59 494.97,624.58 495.31,624.57 495.65,624.56 495.99,624.54 496.32,624.53 496.66,624.51 497.00,624.49 497.34,624.47 497.67,624.44 498.01,624.42 498.35,624.39 498.69,624.35 499.02,624.31 499.36,624.27 499.70,624.22 500.04,624.17 500.38,624.11 500.71,624.04 501.05,623.97 501.39,623.88 501.72,623.79 502.06,623.69 502.40,623.57 502.74,623.44 503.07,623.30 503.41,623.13 503.75,622.95 504.09,622.75 504.42,622.53 504.76,622.28 505.10,622.00 505.44,621.69 505.77,621.35 506.11,620.97 506.45,620.55 506.79,620.08 507.12,619.56 507.46,618.98 507.80,618.35 508.14,617.65 508.47,616.87 508.81,616.02 509.15,615.09 509.49,614.07 509.82,612.96 510.16,611.74 510.50,610.42 510.84,608.99 511.17,607.44 511.51,605.77 511.85,603.98 512.19,602.08 512.52,600.04 512.86,597.89 513.20,595.63 513.54,593.25 513.88,590.77 514.21,588.20 514.55,585.54 514.89,582.82 515.23,580.05 515.56,577.25 515.90,574.42 516.24,571.60 516.57,568.80 516.91,566.02 517.25,563.31 517.59,560.65 517.92,558.08 518.26,555.60 518.60,553.22 518.94,550.96 519.27,548.81 519.61,546.77 519.95,544.86 520.29,543.08 520.62,541.41 520.96,539.86 521.30,538.43 521.64,537.11 521.98,535.89 522.31,534.78 522.65,533.76 522.99,532.83 523.32,531.98 523.66,531.20 524.00,530.50 524.34,529.87 524.67,529.29 525.01,528.77 525.35,528.30 525.69,527.88 526.02,527.50 526.36,527.16 526.70,526.85 527.04,526.57 527.38,526.32 527.71,526.10 528.05,525.90 528.39,525.72 528.73,525.55 529.06,525.41 529.40,525.28 529.74,525.16 530.07,525.06 530.41,524.96 530.75,524.88 531.09,524.81 531.42,524.74 531.76,524.68 532.10,524.63 532.44,524.58 532.77,524.54 533.11,524.50 533.45,524.46 533.79,524.43 534.12,524.41 534.46,524.38 534.80,524.36 535.14,524.34 535.48,524.32 535.81,524.31 536.15,524.29 536.49,524.28 536.82,524.27 537.16,524.26 537.50,524.25 537.84,524.24 538.17,524.23 538.51,524.23 538.85,524.22 539.19,524.22 539.52,524.21 539.86,524.21 540.20,524.20 540.54,524.20 540.88,524.20 541.21,524.20 541.55,524.19 541.89,524.19 542.23,524.19 542.56,524.19 542.90,524.19 543.24,524.19 543.57,524.18 543.91,524.18 544.25,524.18 544.59,524.18 544.92,524.18 545.26,524.18 545.60,524.18 545.94,524.18 546.27,524.18 546.61,524.18 546.95,524.18 547.29,524.18 547.62,524.18 547.96,524.18 548.30,524.18 548.64,524.18 548.98,524.18 549.31,524.18 549.65,524.18 549.99,524.18 550.32,524.18 550.66,524.18 551.00,524.18 551.34,524.18 551.67,524.18 552.01,524.18 552.35,524.18 552.69,524.17 553.02,524.17 553.36,524.17 553.70,524.17 554.04,524.17 554.38,524.17 554.71,524.17 555.05,524.17 555.39,524.17 555.73,524.17 556.06,524.17 556.40,524.17 556.74,524.17 557.07,524.17 557.41,524.17 557.75,524.17 558.09,524.17 558.42,524.17 558.76,524.17 559.10,524.17 559.44,524.17 559.77,524.17 560.11,524.17 560.45,524.17 560.79,524.17 561.12,524.17 561.46,524.17 561.80,524.17 562.14,524.17 562.48,524.17 562.81,524.17 563.15,524.17 563.49,524.17 563.82,524.17 564.16,524.17 564.50,524.17 564.84,524.17 565.17,524.17 565.51,524.17 565.85,524.17 566.19,524.17 566.52,524.17 566.86,524.17 567.20,524.17 567.54,524.17 567.88,524.17 568.21,524.17 568.55,524.17 568.89,524.17 569.23,524.17 569.56,524.17 569.90,524.17 570.24,524.17 570.57,524.17 570.91,524.17 571.25,524.17 571.59,524.17 571.92,524.17 572.26,524.17 572.60,524.17 572.94,524.17 573.27,524.17 573.61,524.17 573.95,524.17 574.29,524.17 574.62,524.17 574.96,524.17 575.30,524.17 575.64,524.17 575.98,524.17 576.31,524.17 576.65,524.17 576.99,524.17 577.33,524.17 577.66,524.17 578.00,524.17 578.34,524.17 578.67,524.17 579.01,524.17 579.35,524.17 579.69,524.17 580.02,524.17 580.36,524.17 580.70,524.17 581.04,524.17 581.38,524.17 581.71,524.17 582.05,524.17 582.39,524.17 582.72,524.17 583.06,524.17 583.40,524.17" fill="none" stroke="#b5d330" stroke-width="1.15" stroke-dasharray="1.4,1.3"/>
<polyline points="448.40,624.67 448.74,624.67 449.07,624.67 449.41,624.67 449.75,624.67 450.09,624.67 450.42,624.67 450.76,624.67 451.10,624.67 451.44,624.67 451.77,624.67 452.11,624.67 452.45,624.67 452.79,624.67 453.12,624.67 453.46,624.67 453.80,624.67 454.14,624.67 454.47,624.67 454.81,624.67 455.15,624.67 455.49,624.67 455.82,624.67 456.16,624.67 456.50,624.67 456.84,624.67 457.17,624.67 457.51,624.67 457.85,624.67 458.19,624.67 458.52,624.67 458.86,624.67 459.20,624.67 459.54,624.67 459.88,624.67 460.21,624.67 460.55,624.67 460.89,624.67 461.22,624.67 461.56,624.67 461.90,624.67 462.24,624.67 462.57,624.67 462.91,624.67 463.25,624.67 463.59,624.67 463.92,624.67 464.26,624.67 464.60,624.67 464.94,624.67 465.27,624.67 465.61,624.67 465.95,624.67 466.29,624.67 466.62,624.67 466.96,624.67 467.30,624.67 467.64,624.67 467.97,624.67 468.31,624.67 468.65,624.67 468.99,624.67 469.32,624.67 469.66,624.67 470.00,624.67 470.34,624.67 470.67,624.67 471.01,624.67 471.35,624.67 471.69,624.67 472.02,624.67 472.36,624.67 472.70,624.67 473.04,624.67 473.38,624.67 473.71,624.67 474.05,624.67 474.39,624.67 474.72,624.67 475.06,624.67 475.40,624.67 475.74,624.67 476.07,624.67 476.41,624.67 476.75,624.67 477.09,624.67 477.42,624.67 477.76,624.67 478.10,624.67 478.44,624.67 478.77,624.67 479.11,624.67 479.45,624.67 479.79,624.67 480.12,624.67 480.46,624.67 480.80,624.67 481.14,624.67 481.47,624.67 481.81,624.67 482.15,624.67 482.49,624.67 482.82,624.67 483.16,624.67 483.50,624.67 483.84,624.67 484.17,624.67 484.51,624.67 484.85,624.67 485.19,624.67 485.52,624.67 485.86,624.67 486.20,624.67 486.54,624.67 486.88,624.67 487.21,624.67 487.55,624.67 487.89,624.67 488.22,624.67 488.56,624.67 488.90,624.67 489.24,624.67 489.57,624.67 489.91,624.67 490.25,624.67 490.59,624.67 490.92,624.67 491.26,624.67 491.60,624.67 491.94,624.67 492.27,624.67 492.61,624.67 492.95,624.67 493.29,624.67 493.62,624.67 493.96,624.67 494.30,624.67 494.64,624.67 494.97,624.67 495.31,624.67 495.65,624.67 495.99,624.67 496.32,624.67 496.66,624.67 497.00,624.67 497.34,624.67 497.67,624.67 498.01,624.67 498.35,624.67 498.69,624.67 499.02,624.67 499.36,624.67 499.70,624.67 500.04,624.67 500.38,624.67 500.71,624.67 501.05,624.67 501.39,624.67 501.72,624.67 502.06,624.67 502.40,624.67 502.74,624.67 503.07,624.67 503.41,624.67 503.75,624.67 504.09,624.67 504.42,624.67 504.76,624.67 505.10,624.67 505.44,624.67 505.77,624.67 506.11,624.67 506.45,624.67 506.79,624.67 507.12,624.67 507.46,624.67 507.80,624.67 508.14,624.67 508.47,624.67 508.81,624.67 509.15,624.67 509.49,624.67 509.82,624.67 510.16,624.67 510.50,624.67 510.84,624.67 511.17,624.67 511.51,624.67 511.85,624.67 512.19,624.67 512.52,624.67 512.86,624.67 513.20,624.67 513.54,624.67 513.88,624.67 514.21,624.67 514.55,624.67 514.89,624.67 515.23,624.67 515.56,624.67 515.90,624.67 516.24,624.66 516.57,624.66 516.91,624.66 517.25,624.66 517.59,624.66 517.92,624.66 518.26,624.65 518.60,624.65 518.94,624.65 519.27,624.65 519.61,624.64 519.95,624.64 520.29,624.63 520.62,624.63 520.96,624.62 521.30,624.61 521.64,624.61 521.98,624.60 522.31,624.59 522.65,624.58 522.99,624.56 523.32,624.55 523.66,624.54 524.00,624.52 524.34,624.50 524.67,624.48 525.01,624.45 525.35,624.42 525.69,624.39 526.02,624.36 526.36,624.32 526.70,624.27 527.04,624.22 527.38,624.16 527.71,624.10 528.05,624.03 528.39,623.94 528.73,623.85 529.06,623.75 529.40,623.63 529.74,623.50 530.07,623.36 530.41,623.20 530.75,623.01 531.09,622.81 531.42,622.58 531.76,622.32 532.10,622.03 532.44,621.70 532.77,621.34 533.11,620.94 533.45,620.49 533.79,619.98 534.12,619.42 534.46,618.80 534.80,618.10 535.14,617.34 535.48,616.49 535.81,615.55 536.15,614.51 536.49,613.38 536.82,612.13 537.16,610.77 537.50,609.28 537.84,607.67 538.17,605.93 538.51,604.05 538.85,602.03 539.19,599.88 539.52,597.60 539.86,595.18 540.20,592.65 540.54,590.01 540.88,587.26 541.21,584.43 541.55,581.54 541.89,578.59 542.23,575.62 542.56,572.64 542.90,569.67 543.24,566.73 543.57,563.84 543.91,561.03 544.25,558.31 544.59,555.68 544.92,553.17 545.26,550.79 545.60,548.53 545.94,546.40 546.27,544.42 546.61,542.56 546.95,540.85 547.29,539.26 547.62,537.80 547.96,536.46 548.30,535.24 548.64,534.12 548.98,533.11 549.31,532.19 549.65,531.35 549.99,530.60 550.32,529.92 550.66,529.31 551.00,528.76 551.34,528.27 551.67,527.83 552.01,527.43 552.35,527.08 552.69,526.76 553.02,526.48 553.36,526.23 553.70,526.00 554.04,525.80 554.38,525.62 554.71,525.46 555.05,525.32 555.39,525.19 555.73,525.08 556.06,524.98 556.40,524.89 556.74,524.81 557.07,524.74 557.41,524.68 557.75,524.62 558.09,524.57 558.42,524.53 558.76,524.49 559.10,524.45 559.44,524.42 559.77,524.39 560.11,524.37 560.45,524.35 560.79,524.33 561.12,524.31 561.46,524.30 561.80,524.28 562.14,524.27 562.48,524.26 562.81,524.25 563.15,524.24 563.49,524.23 563.82,524.23 564.16,524.22 564.50,524.22 564.84,524.21 565.17,524.21 565.51,524.20 565.85,524.20 566.19,524.20 566.52,524.19 566.86,524.19 567.20,524.19 567.54,524.19 567.88,524.19 568.21,524.19 568.55,524.18 568.89,524.18 569.23,524.18 569.56,524.18 569.90,524.18 570.24,524.18 570.57,524.18 570.91,524.18 571.25,524.18 571.59,524.18 571.92,524.18 572.26,524.18 572.60,524.18 572.94,524.18 573.27,524.18 573.61,524.18 573.95,524.18 574.29,524.18 574.62,524.18 574.96,524.18 575.30,524.18 575.64,524.18 575.98,524.18 576.31,524.18 576.65,524.18 576.99,524.18 577.33,524.17 577.66,524.17 578.00,524.17 578.34,524.17 578.67,524.17 579.01,524.17 579.35,524.17 579.69,524.17 580.02,524.17 580.36,524.17 580.70,524.17 581.04,524.17 581.38,524.17 581.71,524.17 582.05,524.17 582.39,524.17 582.72,524.17 583.06,524.17 583.40,524.17" fill="none" stroke="#f2ee2c" stroke-width="1.15" stroke-dasharray="1.4,1.3"/>
<circle cx="448.40" cy="624.67" r="2.0" fill="#b5d330"/>
<circle cx="448.40" cy="628.72" r="2.0" fill="#17601f"/>
<circle cx="448.40" cy="630.75" r="2.0" fill="#2a8a2a"/>
<circle cx="448.40" cy="631.42" r="2.0" fill="#62b533"/>
<circle cx="448.40" cy="634.12" r="2.0" fill="#f2ee2c"/>
<circle cx="448.40" cy="524.85" r="2.0" fill="#000"/>
<circle cx="461.90" cy="621.98" r="2.0" fill="#62b533"/>
<circle cx="461.90" cy="623.33" r="2.0" fill="#b5d330"/>
<circle cx="461.90" cy="627.37" r="2.0" fill="#f2ee2c"/>
<circle cx="461.90" cy="525.52" r="2.0" fill="#17601f"/>
<circle cx="475.40" cy="622.65" r="2.0" fill="#62b533"/>
<circle cx="475.40" cy="628.05" r="2.0" fill="#f2ee2c"/>
<circle cx="475.40" cy="524.85" r="2.0" fill="#2a8a2a"/>
<circle cx="502.40" cy="624.00" r="2.0" fill="#b5d330"/>
<circle cx="502.40" cy="628.72" r="2.0" fill="#f2ee2c"/>
<circle cx="502.40" cy="525.52" r="2.0" fill="#000"/>
<circle cx="502.40" cy="523.90" r="2.0" fill="#62b533"/>
<circle cx="529.40" cy="624.00" r="2.0" fill="#f2ee2c"/>
<circle cx="529.40" cy="524.17" r="2.0" fill="#b5d330"/>
<circle cx="556.40" cy="524.17" r="2.0" fill="#b5d330"/>
<circle cx="556.40" cy="524.85" r="2.0" fill="#f2ee2c"/>
<circle cx="583.40" cy="524.17" r="2.0" fill="#b5d330"/>
<circle cx="583.40" cy="524.85" r="2.0" fill="#f2ee2c"/>
<text x="602.00" y="552.40" text-anchor="middle" font-size="9.8" >[dT]</text>
<text x="602.00" y="563.40" text-anchor="middle" font-size="9.8" >(nM)</text>
<circle cx="597.5" cy="573.1" r="1.8" fill="#000"/>
<text x="601.20" y="576.60" text-anchor="start" font-size="9.8" >0</text>
<circle cx="597.5" cy="581.9" r="1.8" fill="#17601f"/>
<text x="601.20" y="585.40" text-anchor="start" font-size="9.8" >5</text>
<circle cx="597.5" cy="591.4" r="1.8" fill="#2a8a2a"/>
<text x="601.20" y="594.90" text-anchor="start" font-size="9.8" >10</text>
<circle cx="597.5" cy="601.2" r="1.8" fill="#62b533"/>
<text x="601.20" y="604.70" text-anchor="start" font-size="9.8" >20</text>
<circle cx="597.5" cy="610.1" r="1.8" fill="#b5d330"/>
<text x="601.20" y="613.60" text-anchor="start" font-size="9.8" >30</text>
<circle cx="597.5" cy="619.4" r="1.8" fill="#f2ee2c"/>
<text x="601.20" y="622.90" text-anchor="start" font-size="9.8" >50</text>
</g>
</svg>
</body></html>
